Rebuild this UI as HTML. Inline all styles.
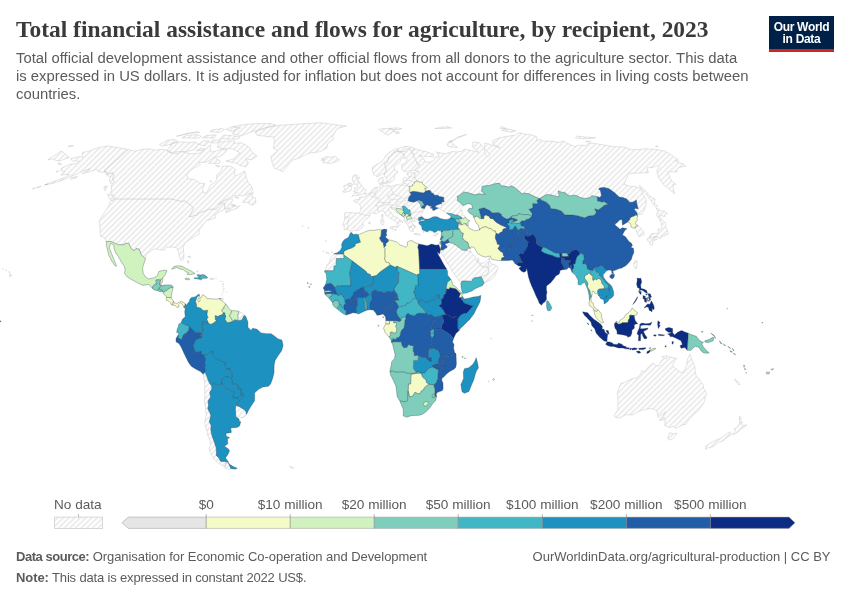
<!DOCTYPE html>
<html lang="en"><head><meta charset="utf-8"><title>Total financial assistance and flows for agriculture, by recipient, 2023</title>
<style>
html,body{margin:0;padding:0;background:#fff}
body{width:850px;height:600px;position:relative;overflow:hidden;font-family:"Liberation Sans",sans-serif;color:#5b5b5b}
.abs{position:absolute;white-space:nowrap}
#title{left:16px;top:15px;font-family:"Liberation Serif",serif;font-weight:bold;font-size:23.45px;color:#3a3a3a;line-height:28px}
#sub{left:16px;top:49.2px;font-size:14.85px;line-height:18px;color:#5b5b5b}
#logo{left:769px;top:16px;width:65px;height:33px;background:#002147;border-bottom:3px solid #ce261e;color:#fff;font-weight:bold;font-size:12px;line-height:12px;letter-spacing:-0.3px;text-align:center;box-sizing:content-box}
#logo span{display:block;padding-top:5px}
.lg{font-size:13.6px;color:#5b5b5b;top:497px;line-height:16px}
.ft{font-size:13px;letter-spacing:-0.055px;color:#5b5b5b;line-height:16px}
.ft b{color:#5b5b5b}
svg{position:absolute;left:0;top:0}
</style></head><body>
<svg width="850" height="600" viewBox="0 0 850 600">
<defs>
<pattern id="h" width="4" height="4" patternUnits="userSpaceOnUse" patternTransform="rotate(-45 2 2)"><rect x="-1" y="-1" width="6" height="6" fill="#fff"/><path d="M-1,2l6,0" stroke="#ccc" stroke-width="0.7"/></pattern>
</defs>
<g fill="url(#h)" stroke="#bcbcbc" stroke-width="0.4" stroke-linejoin="round">
<path d="M333.8,254.1L343.9,254.1L343.8,255.1L343.8,258.5L336.3,258.5L336.2,265.2L333.9,266.3L333.8,270.7L324.9,270.7L324.6,272.1L326.4,267.6L327.2,264.5L329.5,261.9L330.7,258.0Z"/>
<path d="M635.7,260.3L637.1,261.1L636.8,266.1L636.0,269.2L633.9,266.3L633.8,263.7L634.8,261.1Z"/>
<path d="M634.2,227.8L635.4,227.7L635.7,226.4L638.0,225.6L642.2,229.8L643.7,232.4L644.2,234.5L641.8,235.5L639.0,236.7L637.9,235.0L636.6,231.1L636.2,229.8Z"/>
<path d="M660.4,218.1L663.3,220.7L665.9,223.3L665.5,226.4L667.0,229.8L668.5,233.2L667.2,235.0L666.4,233.7L665.2,235.8L661.6,236.0L661.8,236.8L660.3,238.9L658.1,236.8L655.1,236.6L652.1,237.1L649.2,237.6L649.5,236.3L651.3,233.9L652.2,233.6L656.7,233.4L658.1,233.2L658.1,229.5L658.6,228.5L659.3,230.3L661.6,228.7L662.0,225.9L661.2,222.5L659.7,220.4L659.6,218.9ZM658.7,218.1L660.6,217.3L658.8,215.5L660.7,215.2L664.7,216.8L665.1,214.2L667.3,213.4L664.8,211.1L661.9,211.1L655.9,207.8L657.0,210.3L658.5,213.4L656.6,213.7L656.7,215.5ZM649.4,237.9L651.2,238.6L652.7,240.7L652.9,244.4L651.6,245.2L650.3,244.7L649.3,242.0L647.7,240.7L647.2,238.9L648.3,238.4ZM652.9,238.9L653.5,237.3L656.1,236.8L657.5,238.1L657.0,239.4L654.9,239.2L655.0,241.0L653.6,240.2Z"/>
<path d="M734.7,378.9L737.6,381.2L740.1,384.6L738.7,384.6L735.9,381.8Z"/>
<path d="M321.4,158.8L325.2,156.8L332.1,157.2L335.6,156.5L337.9,158.8L339.5,159.9L336.7,161.6L330.2,163.6L325.9,162.7L322.9,162.7L324.4,161.1L321.1,160.2L324.8,159.3Z"/>
<path d="M351.8,196.2L356.2,195.6L361.2,194.6L366.0,193.3L364.2,192.5L366.5,189.8L363.8,188.8L363.0,187.3L360.3,183.8L359.0,181.4L357.5,181.4L359.4,177.2L355.7,177.5L357.4,175.0L353.9,175.0L352.3,177.7L352.5,180.6L354.0,183.1L353.6,184.3L357.0,184.1L357.4,186.8L357.2,187.8L354.4,188.0L355.1,189.8L352.9,191.5L356.9,192.8L357.9,192.5L354.9,193.3ZM349.2,183.1L351.3,183.3L352.6,185.1L351.0,186.1L349.0,185.8L347.5,185.1L348.9,183.8Z"/>
<path d="M350.8,190.8L351.5,188.0L351.0,186.1L349.0,185.8L347.5,185.1L348.9,183.8L349.2,183.1L346.8,184.8L343.8,185.8L344.1,187.8L344.6,189.5L342.9,191.3L343.8,192.5L347.0,191.8Z"/>
<path d="M383.8,173.8L382.7,173.6L380.9,174.6L378.2,176.3L376.3,176.5L373.6,174.6L372.4,170.7L372.3,167.4L374.9,165.5L378.3,163.4L381.7,161.6L384.1,158.8L385.6,155.8L387.9,153.6L390.9,151.4L394.8,149.2L399.5,148.1L405.2,146.4L409.9,146.8L414.4,148.1L414.4,149.2L411.7,150.8L409.4,148.6L406.5,149.4L406.2,150.5L404.8,151.8L400.9,151.6L397.6,150.8L397.0,152.3L393.7,152.0L393.6,153.2L391.3,154.9L389.8,157.0L388.3,157.4L388.7,159.3L387.3,160.9L388.1,161.8L384.9,163.4L385.3,167.6L386.7,168.5L385.6,169.3L386.3,170.7L386.2,171.4L385.0,172.2L384.4,174.1L383.8,173.8Z"/>
<path d="M383.8,173.8L384.3,175.8L385.8,177.7L387.2,180.9L388.0,182.8L390.6,182.6L390.3,181.6L392.9,180.9L394.3,179.7L394.6,176.7L394.9,174.8L398.1,171.9L394.7,170.0L394.2,167.6L394.7,166.0L396.3,164.6L399.2,162.7L401.0,160.9L400.2,159.9L401.9,158.6L405.2,158.1L404.1,156.8L404.1,154.7L402.9,153.4L399.4,151.8L397.6,150.8L397.0,152.3L393.7,152.0L393.6,153.2L391.3,154.9L389.8,157.0L388.3,157.4L388.7,159.3L387.3,160.9L388.1,161.8L384.9,163.4L385.3,167.6L386.7,168.5L385.6,169.3L386.3,170.7L386.2,171.4L385.0,172.2L384.4,174.1L383.8,173.8Z"/>
<path d="M405.2,158.1L407.5,159.7L406.5,161.6L403.9,163.9L401.6,164.3L401.8,167.9L402.2,170.0L405.4,171.9L409.2,171.2L414.2,170.4L416.3,168.6L419.8,164.8L416.5,163.0L417.0,161.6L415.5,160.4L414.7,157.7L413.2,155.6L414.3,153.8L411.4,152.7L411.2,152.0L411.7,150.8L409.4,148.6L406.5,149.4L406.2,150.5L404.8,151.8L400.9,151.6L397.6,150.8L399.4,151.8L402.9,153.4L404.1,154.7L404.1,156.8L405.2,158.1Z"/>
<path d="M384.5,182.1L387.3,181.4L387.4,182.4L386.5,184.1L384.4,183.3ZM382.0,182.6L383.9,182.6L383.8,183.7L382.4,183.6Z"/>
<path d="M415.0,172.9L410.4,172.6L406.8,173.6L407.0,174.8L408.9,175.8L408.8,176.7L409.3,178.4L407.1,178.9L405.7,177.2L403.9,177.7L403.1,180.1L403.6,182.1L401.8,184.1L401.1,185.2L399.2,185.3L398.7,184.3L395.1,185.1L390.8,186.6L389.3,185.1L386.7,185.8L384.6,186.3L382.5,185.1L382.3,184.3L381.5,183.8L382.7,181.9L383.9,180.4L382.8,179.9L383.1,177.1L379.5,178.7L378.6,179.9L378.7,182.4L379.8,184.1L380.5,186.3L379.8,187.3L377.0,187.3L373.9,187.8L372.6,189.0L371.5,191.0L369.9,192.8L368.3,193.6L366.4,194.1L366.4,195.8L363.6,197.1L360.6,197.1L359.4,197.1L360.0,199.6L357.1,199.4L353.5,200.4L354.5,201.9L357.5,202.7L358.7,203.4L360.7,206.0L360.9,207.8L360.5,210.3L359.4,213.2L355.3,213.1L351.3,212.7L346.5,212.4L344.0,214.0L344.7,216.5L344.6,219.4L343.2,223.5L342.9,225.4L344.3,226.1L344.0,229.8L347.3,229.3L349.4,230.6L351.1,232.4L353.7,230.6L358.4,230.6L361.7,228.2L363.6,225.4L362.6,223.3L365.1,219.6L367.8,218.3L370.1,216.0L369.5,213.7L371.5,212.9L373.2,213.2L374.5,213.4L376.2,214.0L378.6,212.3L381.5,210.6L384.4,211.9L385.2,214.5L388.0,216.5L389.8,218.3L392.4,218.9L393.5,219.9L395.1,221.5L396.9,223.3L397.4,225.4L396.9,227.2L397.8,227.4L398.8,226.1L400.0,224.6L398.3,222.8L399.1,220.9L401.5,222.2L402.4,222.5L402.5,221.2L399.2,219.4L396.9,217.1L395.0,217.1L392.5,215.0L391.6,212.7L389.0,211.1L388.6,208.3L391.4,207.3L391.0,207.8L392.0,209.6L392.7,208.3L393.1,208.3L394.3,210.3L395.0,211.4L397.4,212.9L400.0,214.5L402.0,215.8L403.4,216.5L404.0,217.2L404.4,218.6L404.1,220.4L405.8,222.8L407.4,224.6L408.4,226.4L412.1,227.2L409.7,226.7L408.5,227.7L409.8,230.3L411.6,231.3L413.4,231.3L412.3,228.5L413.8,228.7L414.9,228.1L414.1,227.2L414.9,226.7L412.4,224.8L412.9,224.1L411.3,222.0L411.7,220.4L412.9,221.3L413.0,222.1L415.0,221.6L414.0,220.2L418.0,219.8L418.4,220.2L418.8,217.6L420.6,216.5L422.1,216.8L420.9,215.5L421.5,213.7L422.8,212.3L422.8,211.1L424.4,209.1L424.5,208.6L421.3,207.9L420.7,205.0L419.0,202.4L417.1,200.8L413.8,202.2L409.7,201.4L408.0,200.4L408.6,198.6L408.8,197.3L411.2,194.2L409.9,192.5L408.9,190.5L410.1,189.5L408.9,186.4L410.6,186.6L412.8,185.6L412.9,184.1L414.7,183.1L414.1,182.2L416.9,181.0L415.5,178.2L414.7,177.6L414.7,175.8L415.0,172.9Z"/>
<path d="M404.0,217.2L403.8,216.3L404.3,215.2L405.3,215.3L406.6,217.1L406.5,218.6L407.7,219.8L407.2,221.7L406.4,222.5L405.8,222.8L404.1,220.4L404.4,218.6Z"/>
<path d="M665.5,151.2L656.0,149.4L645.0,148.7L642.4,149.2L631.7,149.8L624.2,147.0L612.1,146.6L607.3,145.5L590.8,142.9L588.2,143.4L586.2,145.5L579.1,145.1L575.3,146.6L567.3,143.4L563.5,141.1L558.8,142.3L550.1,141.1L543.2,141.3L540.5,139.6L536.5,140.2L536.6,136.6L531.2,134.8L518.5,132.8L515.0,135.2L507.2,136.4L498.1,138.0L492.3,141.1L493.4,144.4L500.0,147.7L494.7,146.1L489.0,144.0L484.2,142.9L484.5,145.5L484.9,149.8L488.5,152.7L489.6,155.8L486.5,156.5L485.1,152.7L483.9,148.7L479.3,142.7L473.1,141.9L472.4,146.6L479.0,152.5L472.0,150.5L463.7,149.2L462.3,151.2L456.0,152.0L452.3,151.4L445.8,153.8L441.2,153.2L436.2,151.8L438.7,155.4L439.5,156.8L435.7,156.8L433.5,160.6L429.7,162.5L425.0,161.6L423.7,158.8L420.0,156.1L418.7,155.2L423.5,156.3L433.2,157.0L433.7,154.3L427.3,152.0L420.0,150.3L416.3,149.0L414.4,149.2L411.7,150.8L411.2,152.0L411.4,152.7L414.3,153.8L413.2,155.6L414.7,157.7L415.5,160.4L417.0,161.6L416.5,163.0L419.8,164.8L416.3,168.6L414.2,170.4L418.9,171.8L416.7,171.9L415.0,172.9L414.7,175.8L414.7,177.6L415.5,178.2L416.9,181.0L419.5,182.1L422.4,182.4L422.7,183.8L424.9,186.1L427.0,187.5L426.0,188.5L424.6,188.3L425.9,191.0L429.7,190.3L431.2,191.8L430.7,192.3L433.6,193.8L434.3,195.3L437.9,195.3L439.3,196.6L443.7,197.3L443.7,199.9L444.3,201.8L442.0,201.8L441.2,203.7L443.3,203.9L441.4,204.7L441.8,206.0L440.8,207.3L439.1,208.0L440.7,209.8L444.3,211.6L446.7,213.2L452.0,213.7L455.0,215.0L457.5,215.0L461.0,217.1L463.1,218.6L465.5,217.2L462.6,214.2L461.7,210.3L460.5,209.8L462.0,207.0L463.7,205.5L462.5,205.0L459.3,201.9L457.3,200.4L457.8,198.3L457.0,196.6L460.3,194.8L463.7,192.0L467.2,192.5L471.5,193.8L474.2,194.8L479.7,193.8L482.4,194.3L485.4,194.3L481.7,191.5L482.1,186.4L485.7,185.8L489.5,185.4L494.6,183.8L499.2,183.1L501.3,185.8L506.0,186.3L508.4,187.3L511.5,185.8L515.4,188.0L522.5,194.3L523.3,193.0L529.0,193.8L534.0,196.3L539.1,198.5L542.9,196.6L546.5,194.6L551.3,194.9L558.4,197.0L559.2,194.9L558.1,190.9L560.7,191.9L565.9,193.0L566.8,194.8L570.6,195.9L573.6,195.2L576.4,195.6L581.4,198.0L586.4,198.5L589.8,197.6L591.7,195.7L597.1,196.7L599.9,197.6L601.5,195.4L600.8,192.2L600.3,189.9L598.8,189.4L599.5,188.0L604.1,187.4L609.0,188.7L614.9,193.0L617.5,195.6L619.1,197.0L623.6,197.8L627.0,199.2L629.5,202.2L632.6,202.2L635.9,200.4L636.5,200.2L636.6,202.9L638.2,208.8L635.3,208.3L634.3,209.4L637.1,212.9L637.3,215.8L637.7,216.0L639.0,214.0L641.7,214.7L644.2,210.3L646.1,203.9L646.1,198.9L642.5,193.8L641.8,190.8L639.2,188.0L635.1,186.3L630.3,186.3L624.1,184.3L625.4,180.9L627.4,177.0L628.8,173.4L637.4,173.1L642.7,172.9L648.3,172.9L647.1,167.9L652.9,167.4L657.2,165.8L659.5,167.9L656.7,170.2L658.4,177.0L662.9,183.8L674.7,193.8L673.4,189.0L672.7,185.1L675.8,184.3L671.7,180.9L669.7,176.5L667.5,171.9L677.0,171.7L677.1,169.3L679.2,167.4L685.9,166.2L683.9,164.3L676.2,161.6L674.9,160.4L678.2,160.9L678.7,159.9ZM60.9,151.2L63.9,152.5L66.4,155.4L69.1,157.4L59.3,161.1L55.8,160.4L52.9,158.8L47.7,159.9ZM446.9,145.3L451.1,147.2L457.5,147.4L452.4,143.4L452.2,141.7L448.4,141.9L447.3,144.4ZM449.0,141.5L453.0,140.2L457.2,137.2L466.5,134.4L463.7,135.6L456.7,138.6L452.1,141.5ZM501.6,130.3L507.0,128.9L516.0,130.7L511.3,132.2ZM500.1,128.5L500.9,126.5L506.5,128.5ZM575.4,137.8L577.1,136.0L586.7,137.2L595.5,137.8L590.6,138.6L581.3,138.6ZM585.5,141.5L590.5,141.1L589.3,141.9ZM639.5,185.3L645.9,191.3L649.9,196.3L655.1,199.1L654.3,203.2L657.9,206.2L655.0,206.5L651.4,201.4L647.9,196.3L643.0,191.3L640.1,187.5ZM655.5,146.6L656.2,145.5L658.4,146.8ZM434.9,128.5L441.0,127.2L447.8,126.8L451.6,128.0L442.0,128.5Z"/>
<path d="M70.2,145.5L73.6,145.9L68.0,146.8Z"/>
<path d="M378.8,129.4L383.3,128.5L391.2,128.9L394.6,130.7L390.8,133.2L388.5,135.0L384.1,133.2L380.0,130.7ZM389.0,128.4L396.0,127.9L401.9,128.5L398.0,129.8L391.4,129.4ZM394.2,131.8L397.9,131.8L399.7,133.0L396.2,133.6Z"/>
<path d="M389.8,227.2L391.9,226.7L396.6,226.4L395.7,229.0L395.8,230.6L393.4,229.5L390.3,228.2ZM380.6,219.6L382.6,218.6L384.0,220.7L383.7,224.3L382.2,224.8L381.1,224.1L381.0,221.2ZM382.9,214.2L383.2,216.8L382.6,218.3L381.3,217.1L381.4,215.2ZM414.2,233.7L415.7,233.4L418.6,234.1L420.4,234.5L417.6,235.1L414.5,234.3ZM433.4,234.9L434.9,234.1L438.2,233.2L437.1,235.0L435.1,236.0L433.7,235.6ZM368.3,223.0L370.0,222.1L370.4,223.0L369.6,223.8ZM413.0,224.8L415.0,225.6L416.0,227.2L414.7,226.4ZM419.1,223.5L420.0,224.3L419.0,224.6ZM423.3,231.3L424.2,231.6L423.4,232.6Z"/>
<path d="M487.9,381.5L488.8,380.7L489.5,381.5L488.7,382.3Z"/>
<path d="M490.5,338.5L491.1,338.0L491.7,338.5L491.1,339.1Z"/>
<path d="M325.6,252.5L326.5,251.5L327.4,252.5L326.4,253.4ZM327.7,253.3L328.5,252.5L329.2,253.3L328.4,254.1ZM331.2,252.2L332.1,251.3L332.9,252.2L332.0,253.2ZM322.8,251.4L323.4,250.9L324.0,251.4L323.4,252.0Z"/>
<path d="M307.8,227.7L308.5,227.0L309.1,227.7L308.3,228.4ZM302.1,225.9L302.7,225.3L303.1,225.9L302.5,226.5Z"/>
<path d="M325.4,240.9L325.9,240.3L326.5,240.9L325.9,241.5Z"/>
<path d="M289.4,466.5L293.6,467.7L292.8,468.7Z"/>
<path d="M222.3,284.1L223.0,283.4L223.7,284.1L222.9,284.8ZM222.8,286.2L223.3,285.7L223.8,286.2L223.2,286.7ZM223.2,288.3L223.8,287.7L224.4,288.3L223.8,288.9ZM223.2,290.1L223.7,289.6L224.1,290.1L223.7,290.6ZM226.4,291.9L226.9,291.5L227.3,291.9L226.9,292.4ZM221.3,294.8L221.8,294.3L222.3,294.8L221.8,295.3ZM222.7,291.9L223.1,291.5L223.5,291.9L223.1,292.3ZM222.0,281.7L222.5,281.3L222.9,281.7L222.4,282.2ZM220.1,281.2L220.5,280.8L220.9,281.2L220.4,281.6ZM215.5,278.6L216.0,278.1L216.4,278.6L215.9,279.1Z"/>
<path d="M440.1,240.0L441.6,239.4L441.5,241.0L441.3,241.8L441.4,244.1L441.4,245.7L440.8,249.2L440.6,249.4L438.7,244.7L439.2,243.9L439.8,241.5Z"/>
<path d="M466.6,250.4L468.2,248.1L468.8,247.8L469.5,248.2L470.9,251.8L469.3,251.8Z"/>
<path d="M440.8,249.7L440.7,253.3L442.7,255.1L445.2,259.0L447.1,262.9L450.0,266.3L451.6,270.2L453.8,273.6L456.7,277.3L459.5,281.5L460.8,283.6L461.6,282.8L461.7,281.0L464.7,281.0L466.1,281.0L469.5,281.2L471.4,281.7L472.8,278.9L474.7,277.8L481.2,276.8L487.8,274.2L488.9,268.9L487.7,267.1L481.8,266.6L479.3,263.5L479.2,263.1L478.2,262.2L477.3,261.8L475.7,259.3L475.2,256.7L473.0,254.6L471.4,253.0L470.9,251.8L469.3,251.8L466.6,250.4L462.4,250.1L455.9,245.2L452.1,243.1L449.4,242.4L444.7,244.1L447.2,246.7L446.3,248.1L444.6,248.4L443.3,250.1Z"/>
<path d="M484.2,282.9L481.2,276.8L487.8,274.2L488.9,268.9L487.7,267.1L488.2,265.0L488.7,263.2L489.2,261.8L489.8,261.4L491.4,263.7L495.1,264.8L498.1,267.6L495.9,273.1L494.2,277.0L491.7,279.4L488.8,280.7L486.2,282.0ZM488.7,259.5L489.4,257.6L489.4,259.5Z"/>
<path d="M479.2,263.1L479.3,263.5L481.8,266.6L487.7,267.1L488.2,265.0L488.7,263.2L489.2,261.8L489.8,261.4L489.4,259.5L488.7,259.5L488.8,258.4L487.2,260.3L485.4,262.4L482.4,263.2Z"/>
<path d="M477.3,261.8L478.2,262.2L479.0,260.6L478.5,258.2L477.8,258.1L477.1,259.8Z"/>
<path d="M128.3,149.6L104.2,171.0L107.1,171.7L107.3,174.3L112.9,172.4L113.6,175.5L112.7,179.9L114.7,181.6L112.4,183.8L110.5,183.1L109.3,180.1L110.8,176.5L107.5,176.0L105.5,172.4L97.9,171.7L96.8,169.3L89.6,171.7L82.0,173.6L90.0,168.8L83.6,170.5L76.8,174.1L68.2,177.7L59.5,181.4L51.1,183.8L44.7,184.8L53.8,181.4L64.4,177.7L69.5,174.8L65.1,174.6L60.8,175.0L64.7,171.7L60.6,170.5L61.7,168.1L68.9,164.6L76.6,163.4L79.5,161.1L72.5,161.1L70.6,158.6L80.3,156.5L82.6,157.4L82.7,155.4L82.5,152.5L89.8,150.9L96.4,148.1L107.8,145.9L113.7,147.0L119.0,147.9L124.5,148.7ZM77.4,176.5L75.2,178.2L70.5,179.4L71.6,177.7ZM58.2,163.0L61.7,163.9L58.5,164.6ZM56.6,171.0L58.5,171.2L56.4,172.2ZM41.1,186.1L36.6,187.5L38.3,187.8ZM35.6,187.5L32.1,189.0L33.9,188.8ZM48.2,183.8L44.7,184.8L47.2,184.8Z"/>
<path d="M115.2,198.9L110.6,200.6L108.7,206.0L103.2,214.2L99.3,221.2L100.0,227.7L100.4,236.3L104.5,237.6L106.1,241.5L111.1,241.5L118.4,244.7L124.6,244.7L125.0,243.3L128.7,243.3L131.5,249.1L134.4,250.7L136.0,248.6L139.2,249.1L141.2,254.6L145.5,258.8L146.1,254.6L152.3,250.1L155.3,248.8L160.1,249.9L164.5,250.1L166.3,247.3L173.0,247.0L177.2,248.1L178.7,253.3L180.0,258.5L181.4,260.8L183.4,259.8L184.0,255.9L183.3,247.3L185.0,242.8L190.2,239.4L195.5,235.8L199.0,234.2L199.3,229.8L201.1,227.2L206.3,220.7L210.9,219.4L215.7,217.6L214.8,215.0L219.7,211.6L224.5,209.6L224.8,208.8L224.7,203.9L222.2,202.9L218.7,206.5L215.4,209.1L208.8,209.1L204.3,211.1L198.4,212.9L197.7,214.7L189.6,216.8L190.6,214.2L193.6,208.3L191.0,205.5L189.8,204.5L185.0,200.6L181.6,201.4L171.7,198.9ZM9.8,273.6L11.8,275.0L9.8,276.9L9.4,275.0ZM8.7,271.7L10.2,272.1L9.2,272.6ZM5.7,270.0L6.7,270.5L6.0,270.8ZM2.7,268.4L3.5,268.7L3.0,269.2Z"/>
<path d="M112.4,183.8L114.7,181.6L112.7,179.9L113.6,175.5L112.9,172.4L107.3,174.3L107.1,171.7L104.2,171.0L128.3,149.6L134.8,151.2L139.7,149.8L149.3,148.7L154.5,150.1L162.1,149.2L170.1,151.2L170.2,152.7L177.8,153.6L181.2,151.8L185.0,152.3L189.8,153.6L196.6,153.6L200.7,152.7L203.9,149.8L210.8,144.9L210.1,149.4L211.4,152.0L215.2,151.4L220.9,149.4L226.8,149.4L225.7,152.0L219.7,157.0L214.5,157.0L211.2,159.3L205.6,162.3L198.3,162.5L200.4,164.6L191.7,169.3L186.8,174.6L188.0,178.9L194.4,179.4L199.9,183.1L204.8,183.6L202.7,188.8L203.5,193.0L206.7,192.5L210.4,185.1L216.1,181.4L216.8,174.8L220.4,171.7L222.8,166.0L230.5,166.0L235.5,169.3L234.0,174.1L235.9,175.8L242.0,172.9L244.8,170.7L246.3,177.7L248.1,182.6L251.5,186.3L253.1,190.0L250.2,192.8L243.2,195.8L235.3,195.6L228.6,197.6L220.7,202.7L218.0,204.5L225.6,200.1L232.3,198.3L232.3,201.4L230.4,203.9L231.8,206.0L237.7,207.0L240.3,205.2L237.3,208.3L230.4,210.6L225.6,212.7L226.3,210.3L230.2,207.8L224.8,208.8L224.7,203.9L222.2,202.9L218.7,206.5L215.4,209.1L208.8,209.1L204.3,211.1L198.4,212.9L197.7,214.7L189.6,216.8L190.6,214.2L193.6,208.3L191.0,205.5L189.8,204.5L185.0,200.6L181.6,201.4L171.7,198.9L115.2,198.9L114.3,195.8L110.1,193.3L111.6,190.0L111.1,185.8ZM245.7,166.9L240.1,165.5L236.1,163.2L225.8,161.1L234.2,158.8L237.1,155.4L240.2,153.2L234.8,149.8L232.2,148.7L223.1,148.7L217.1,147.0L219.5,142.3L228.8,140.9L235.1,140.9L233.8,143.4L241.5,142.7L246.2,145.3L250.1,148.1L250.8,150.9L257.2,156.3L251.0,159.9L245.6,158.6L248.1,162.3L248.1,163.9ZM193.9,149.8L186.7,151.4L177.8,151.8L170.4,152.5L166.9,150.9L168.8,147.7L171.7,145.7L170.0,145.1L175.1,142.7L181.9,141.7L188.7,142.7L195.2,141.9L198.2,144.4L196.4,148.1ZM162.3,146.1L159.5,144.6L166.6,140.6L173.9,139.2L177.6,141.3L169.9,144.4ZM241.2,135.8L245.7,134.2L253.0,131.3L262.9,128.5L275.8,125.2L270.5,123.6L257.0,123.5L241.6,124.9L233.9,126.5L240.5,128.0L233.9,131.3L232.6,133.8ZM237.5,139.0L219.5,139.0L223.5,135.2L229.4,135.4L240.2,136.8ZM232.0,131.6L225.9,129.4L232.7,126.3L237.7,128.0ZM198.6,138.2L182.0,137.8L187.1,135.2L198.3,134.8L201.0,136.2ZM218.1,142.9L210.1,142.9L213.0,140.0L220.6,140.2ZM204.9,145.9L198.2,144.4L203.7,140.6L209.6,141.1ZM214.1,138.2L202.2,137.8L206.8,135.2L216.2,135.0ZM199.7,132.6L189.9,133.2L180.5,135.6L176.5,136.2L186.4,133.6L198.1,131.6ZM219.8,132.6L209.9,131.6L212.2,130.0L221.3,128.5L224.5,129.4ZM219.0,163.4L208.5,163.2L214.6,158.1L220.5,161.1ZM203.6,150.3L196.3,150.9L200.3,148.3L204.1,148.7ZM242.5,202.4L248.6,194.6L253.4,192.3L251.5,196.3L255.6,198.1L255.9,202.7L253.5,205.0L249.2,204.2L249.3,202.4ZM107.6,194.3L112.9,195.8L113.6,200.4L110.8,200.1L108.9,197.8ZM105.3,185.8L107.4,186.3L105.1,190.8L103.8,188.8ZM235.0,196.6L238.9,198.1L235.5,197.8ZM232.0,204.2L236.2,205.2L232.8,206.2ZM218.6,166.9L215.3,165.1L220.0,166.2ZM211.7,180.6L209.8,181.4L211.2,181.6Z"/>
<path d="M255.6,131.6L266.5,127.7L280.0,125.2L301.6,123.9L320.0,122.7L333.0,124.4L346.4,126.0L337.4,128.5L335.1,132.2L332.6,136.2L333.5,139.2L327.8,143.4L326.9,148.1L319.4,151.8L308.9,153.2L297.9,158.6L293.1,159.9L287.9,165.1L283.1,171.7L279.0,170.0L274.2,168.1L272.0,162.3L270.9,156.5L277.8,150.5L273.2,148.1L274.4,142.7L273.8,137.2L262.4,136.0L256.9,135.2L255.7,133.2Z"/>
<path d="M620.9,383.3L618.5,389.1L617.2,394.3L618.0,398.2L617.9,404.7L617.7,410.0L614.0,416.0L616.6,417.8L619.8,417.8L625.3,414.9L633.0,414.9L640.1,410.8L647.4,408.9L651.9,408.7L656.7,410.5L658.1,417.3L664.8,412.6L665.7,411.5L662.8,416.5L660.9,418.3L664.7,417.3L662.8,419.4L665.3,420.4L664.8,425.6L670.1,427.7L673.5,426.1L675.6,428.5L681.1,425.4L685.9,424.3L688.9,419.6L693.5,414.9L698.4,410.5L701.7,406.1L704.8,401.1L705.0,397.4L706.7,393.0L703.6,388.8L703.4,385.2L700.8,381.8L699.0,378.6L696.3,376.5L695.4,372.1L695.3,370.5L694.8,366.9L693.6,363.5L691.8,359.8L690.2,354.3L687.5,359.3L686.6,365.6L683.6,372.1L680.6,372.4L677.6,370.0L673.6,366.9L672.8,365.1L674.5,361.1L676.9,358.5L673.8,357.7L668.2,356.7L666.0,355.7L666.8,358.3L663.1,358.8L660.7,361.7L659.2,365.6L656.0,365.6L653.2,363.0L648.5,366.9L644.3,371.6L641.5,370.8L641.0,373.4L637.6,377.6L632.8,378.6L628.0,380.5L624.2,382.6ZM669.7,432.6L672.9,433.7L677.0,433.2L675.2,436.0L672.2,439.1L669.2,440.1L667.7,438.3L668.3,436.5ZM659.4,419.6L661.7,419.4L662.4,420.2L659.9,420.4ZM662.3,356.2L664.8,356.2L663.5,357.2L661.9,357.0Z"/>
<path d="M739.7,416.2L741.2,418.6L740.5,422.5L742.3,422.0L741.7,424.6L743.6,425.6L746.9,424.8L744.1,427.4L740.7,429.3L738.7,431.6L732.8,435.0L732.3,434.2L735.3,431.3L735.5,430.6L734.0,429.0L736.6,427.7L738.8,425.1L739.8,421.5L739.1,418.3ZM729.4,432.1L731.0,433.2L730.5,435.2L727.8,437.0L723.9,439.6L723.6,440.7L718.6,442.2L714.2,446.0L710.3,447.8L707.8,447.8L705.2,446.8L709.9,443.2L713.7,441.2L719.9,438.6L723.0,436.8L724.7,435.4L727.4,433.2ZM705.7,448.3L706.9,448.6L705.5,449.4Z"/>
<path d="M238.8,311.3L237.8,315.4L238.2,318.0L237.3,320.4L239.8,320.4L241.9,319.9L244.1,315.4L243.6,314.1L241.8,312.8Z"/>
<path d="M235.7,405.3L239.5,406.8L240.7,407.4L244.4,409.7L246.0,411.8L246.5,414.4L243.8,417.5L240.9,417.5L237.2,416.2L235.7,415.2L235.6,412.6L235.4,408.7Z"/>
<path d="M203.2,374.3L205.1,372.1L206.6,376.0L207.1,377.1L208.1,380.2L209.0,382.0L209.9,383.9L211.7,385.9L211.8,389.1L209.7,392.2L210.6,396.9L208.1,400.8L208.5,405.5L207.8,408.7L209.8,412.6L210.9,415.7L210.2,418.3L209.3,421.7L211.2,425.6L210.8,429.5L211.7,434.7L213.0,438.6L214.5,442.5L216.1,447.6L216.5,452.7L216.1,455.2L219.2,458.2L219.9,460.5L221.3,461.5L225.1,461.5L228.7,462.5L226.7,463.0L225.1,466.0L221.8,465.3L217.8,462.8L214.1,459.0L211.0,453.9L209.0,448.9L210.7,445.0L209.9,439.9L207.5,434.7L206.5,429.5L204.6,423.5L205.4,419.1L206.3,413.9L205.4,407.4L204.4,402.1L204.8,396.9L204.9,391.7L204.7,387.8L204.6,381.2ZM228.5,463.1L225.0,463.5L226.2,466.0L224.3,466.5L223.9,467.7L228.6,469.5L230.9,468.7Z"/>
<path d="M210.5,278.1L213.9,278.3L213.6,279.4L210.4,279.4Z"/>
<path d="M221.1,298.5L223.2,298.2L223.1,300.0L221.1,300.0Z"/>
<path d="M187.8,256.4L190.0,256.1L190.9,257.7L189.2,257.2ZM187.7,260.6L188.8,260.8L188.5,263.2L187.2,262.4ZM196.5,271.3L198.2,270.8L197.6,271.8Z"/>
</g>
<g fill="none" stroke="#c2c2c2" stroke-width="0.4" stroke-linejoin="round">
<path d="M344.6,217.1L346.0,216.5L346.1,217.3L349.3,217.1L350.1,217.8L348.6,219.4L348.3,222.8L347.2,222.9L348.2,226.7L347.3,229.3M359.4,213.2L360.3,214.1L364.7,215.0L366.8,215.5L369.9,215.6M378.8,212.1L379.2,211.1L377.5,210.6L377.7,208.6L377.2,207.0L377.7,206.8L377.1,205.5L375.7,206.0L375.7,205.0L377.5,202.9L378.7,202.4L378.6,200.6L379.7,198.9L376.7,198.3L376.1,197.7L374.8,197.5L373.0,196.8L372.8,195.9L371.6,196.4L369.6,194.6L368.3,193.6M369.9,192.9L371.7,192.8L373.1,192.7L374.9,193.6L374.5,194.3L375.2,194.4L375.8,195.4L375.5,196.1L376.2,196.8L376.1,197.7M375.2,194.4L375.1,191.8L376.6,191.5L377.0,190.3L377.3,188.0M379.8,184.1L382.3,184.3M390.8,186.6L391.3,188.0L390.8,189.3L392.2,191.0L393.0,193.6L392.7,194.2L391.6,193.8L389.0,195.3L387.4,195.6L388.3,197.1L391.1,199.4L389.5,200.6L389.2,201.0L389.7,202.7L388.0,202.4L384.6,202.7L382.7,202.5L380.7,202.2L378.7,202.4M382.7,202.5L382.8,203.8L384.6,204.3L383.9,205.7L382.3,205.5L381.7,206.9L380.4,205.5L379.3,206.6L377.7,206.8M384.6,204.3L385.7,204.6L388.1,203.8L388.6,204.7L391.3,205.2L390.7,206.0L391.2,207.0L391.4,207.5M391.3,205.2L393.1,205.5L396.1,204.3L396.8,202.9L398.0,201.4L397.5,199.9L395.7,199.5L393.4,198.9L392.9,199.9L391.1,199.4M392.7,194.2L395.7,194.7L395.5,195.3L397.0,195.6L398.6,195.6L401.1,197.5L399.7,198.6L397.9,199.2L397.5,199.9M401.1,197.5L403.1,198.3L403.7,198.3L406.4,197.8L408.6,198.6M398.0,201.4L399.4,202.0L401.4,201.9L403.5,201.0L406.7,200.1L408.0,200.4M409.7,201.4L408.0,202.7L406.7,205.5L404.8,206.2L403.4,206.1L402.1,206.7L398.8,206.6L397.2,205.3L396.1,204.3M391.2,207.9L393.3,207.5L394.7,207.8L395.5,206.9L396.6,205.5L397.2,205.3M410.3,211.1L411.1,212.1L416.3,212.5L419.3,211.2L422.8,212.3M411.7,218.5L414.9,218.0L416.6,218.7L418.8,217.6M407.7,219.8L407.2,221.7M409.0,176.8L411.3,176.7L413.2,177.7L414.7,177.6M403.4,181.1L406.8,180.4L410.6,180.4L414.1,182.2M404.0,183.2L407.2,184.1L407.4,185.4L408.9,186.4M407.4,185.4L401.3,185.2"/>
</g>
<g stroke="#2c3a48" stroke-opacity="0.7" stroke-width="0.45" stroke-linejoin="round">
<path fill="#1d91c0" d="M333.8,254.1L343.9,254.1L343.9,251.4L347.7,249.4L352.1,248.1L355.2,246.0L355.3,243.9L360.6,242.3L359.5,238.9L358.4,234.7L356.7,234.2L353.4,234.5L351.5,232.6L350.4,232.9L348.4,237.6L344.6,239.4L342.8,241.5L341.6,244.4L342.0,247.0L340.6,249.9L337.6,252.5Z"/>
<path fill="#f4fbc6" d="M358.4,234.7L359.5,238.9L360.6,242.3L355.3,243.9L355.2,246.0L352.1,248.1L347.7,249.4L343.9,251.4L343.8,255.1L352.4,261.1L365.8,271.3L367.3,273.4L370.5,274.7L370.7,276.8L372.8,276.4L376.4,275.6L380.2,271.9L390.2,265.0L389.3,262.9L386.1,262.2L384.2,258.0L385.3,257.2L385.0,252.5L385.1,248.6L384.2,247.5L383.2,242.6L381.4,241.5L379.6,238.1L381.1,236.0L381.4,231.1L381.7,229.9L378.3,229.5L374.0,230.3L369.7,230.3L365.4,231.6L363.2,232.9L360.6,233.9Z"/>
<path fill="#225ea8" d="M381.7,229.9L381.4,231.1L381.1,236.0L379.6,238.1L381.4,241.5L383.2,242.6L384.2,247.5L385.9,245.7L385.9,243.6L388.5,241.5L388.5,239.8L387.0,238.6L385.2,236.8L386.7,235.8L386.2,232.9L387.1,229.8L385.2,229.3L384.3,229.0Z"/>
<path fill="#f4fbc6" d="M388.5,239.8L388.5,241.5L385.9,243.6L385.9,245.7L384.2,247.5L385.1,248.6L385.0,252.5L385.3,257.2L384.2,258.0L386.1,262.2L389.3,262.9L390.2,265.0L395.2,267.4L397.0,266.3L417.6,275.5L417.6,274.2L419.8,274.2L419.7,268.9L418.7,250.1L417.9,247.5L418.7,243.9L414.2,242.3L413.7,241.3L410.3,240.5L407.4,242.0L407.4,245.4L405.7,247.3L403.0,246.0L399.8,244.9L396.8,242.0L392.1,240.5Z"/>
<path fill="#0c2c84" d="M418.7,243.9L417.9,247.5L418.7,250.1L419.7,268.9L434.3,268.9L446.5,268.9L443.5,264.0L440.5,258.5L438.7,255.4L435.4,248.3L437.0,251.7L439.4,253.9L440.6,249.4L438.7,244.7L436.0,245.2L434.2,244.7L431.5,244.1L429.4,244.9L427.2,245.7L423.9,244.9Z"/>
<path fill="#1d91c0" d="M419.7,268.9L446.5,268.9L447.6,271.6L447.5,275.0L451.0,279.4L448.6,281.5L447.5,282.0L446.5,286.7L446.6,289.1L445.9,293.2L443.7,295.6L443.3,298.2L441.9,298.7L441.5,301.6L438.9,298.5L439.3,294.5L437.2,295.1L436.6,297.7L434.4,300.8L432.1,299.5L429.8,301.1L427.5,302.1L424.1,301.6L420.6,299.5L418.4,303.7L417.2,300.3L415.7,297.9L414.3,293.2L413.4,293.2L414.6,289.6L415.1,288.0L415.5,285.4L418.0,285.4L417.6,275.5L417.6,274.2L419.8,274.2Z"/>
<path fill="#1d91c0" d="M418.4,303.7L420.6,299.5L424.1,301.6L427.5,302.1L429.8,301.1L432.1,299.5L434.4,300.8L436.6,297.7L437.2,295.1L439.3,294.5L438.9,298.5L441.5,301.6L441.6,303.9L439.6,305.2L439.1,306.0L441.4,307.6L443.8,310.7L444.5,312.3L446.0,314.4L441.6,315.4L439.3,316.2L437.0,317.1L434.3,317.3L431.6,314.6L428.6,315.2L426.4,313.3L424.0,309.9L421.4,307.3L418.8,304.7Z"/>
<path fill="#cff2be" d="M451.0,279.4L448.6,281.5L447.5,282.0L446.5,286.7L446.6,289.1L449.2,289.3L449.8,287.7L452.3,288.3L455.1,288.7L456.5,289.6L460.3,293.8L461.9,293.2L460.5,291.7L457.3,288.3L454.5,285.9L453.2,285.7L452.5,283.3Z"/>
<path fill="#f4fbc6" d="M461.9,293.2L460.3,293.8L459.1,296.4L459.1,297.7L461.6,297.7L462.4,296.4L461.3,296.1L462.7,294.5Z"/>
<path fill="#0c2c84" d="M446.6,289.1L449.2,289.3L449.8,287.7L452.3,288.3L455.1,288.7L456.5,289.6L460.3,293.8L459.1,296.4L459.1,297.7L461.6,297.7L461.2,298.7L464.3,302.9L471.3,305.5L473.6,305.5L466.9,313.3L463.4,313.7L460.0,315.7L459.8,316.0L457.7,316.1L454.9,316.3L454.3,317.4L451.0,317.0L448.5,314.9L446.2,314.8L446.0,314.4L444.5,312.3L443.8,310.7L441.4,307.6L439.1,306.0L439.6,305.2L441.6,303.9L441.5,301.6L441.9,298.7L443.3,298.2L443.7,295.6L445.9,293.2Z"/>
<path fill="#1d91c0" d="M462.4,296.4L464.2,299.1L468.8,298.2L473.3,297.1L477.9,296.4L480.8,295.5L480.5,299.0L479.9,301.9L478.2,305.5L476.0,309.4L473.8,314.1L469.3,319.9L467.7,321.2L463.6,325.4L460.1,328.8L459.0,330.7L457.8,328.6L457.7,319.1L459.8,316.0L460.0,315.7L463.4,313.7L466.9,313.3L473.6,305.5L471.3,305.5L464.3,302.9L461.2,298.7L461.6,297.7Z"/>
<path fill="#0c2c84" d="M459.0,330.7L455.9,333.5L453.5,338.5L449.9,334.2L441.6,329.0L441.4,326.1L442.8,323.5L443.9,321.4L442.5,317.3L441.6,315.4L446.0,314.4L446.2,314.8L448.5,314.9L451.0,317.0L454.3,317.4L454.9,316.3L457.7,316.1L459.8,316.0L457.7,319.1L457.8,328.6Z"/>
<path fill="#225ea8" d="M434.3,317.3L437.0,317.1L439.3,316.2L441.6,315.4L442.5,317.3L443.9,321.4L442.8,323.5L441.4,326.1L441.6,329.0L433.5,329.2L431.5,330.1L431.5,327.7L432.2,325.1L432.9,323.3L435.4,320.7L434.1,320.1Z"/>
<path fill="#225ea8" d="M453.5,338.5L452.5,342.1L454.1,344.7L453.6,348.1L454.6,352.5L456.0,353.8L450.4,355.9L445.7,356.7L443.3,356.6L442.6,355.1L441.3,351.2L438.9,350.9L434.7,348.9L434.0,348.1L431.1,343.4L431.4,338.0L432.3,337.6L434.2,335.0L433.5,332.7L434.3,332.4L433.5,329.2L441.6,329.0L449.9,334.2Z"/>
<path fill="#41b6c4" d="M431.5,330.1L433.5,329.2L434.3,332.4L433.5,332.7L432.1,333.5L430.1,333.5L430.6,330.8Z"/>
<path fill="#41b6c4" d="M430.1,333.5L432.1,333.5L433.5,332.7L434.2,335.0L432.3,337.6L431.4,338.0L430.5,335.0Z"/>
<path fill="#225ea8" d="M456.0,353.8L456.2,359.0L456.4,364.3L455.6,367.7L453.9,369.2L449.7,371.6L447.1,373.4L443.2,377.6L442.1,378.1L441.7,380.2L443.0,383.1L443.1,388.8L442.3,390.6L437.2,392.5L436.2,394.2L436.7,396.5L434.9,396.5L434.8,394.2L434.9,389.9L433.8,384.9L436.5,382.0L437.7,378.6L437.7,375.5L438.3,372.1L438.2,370.0L434.6,368.2L432.6,367.2L432.2,365.1L439.1,363.0L440.0,364.5L442.3,364.5L441.5,367.7L443.6,371.1L445.1,368.2L445.0,364.5L442.4,361.7L442.0,358.3L443.3,356.6L445.7,356.7L450.4,355.9Z"/>
<path fill="#225ea8" d="M438.9,350.9L441.3,351.2L442.6,355.1L443.3,356.6L442.0,358.3L442.4,361.7L445.0,364.5L445.1,368.2L443.6,371.1L441.5,367.7L442.3,364.5L440.0,364.5L439.1,363.0L438.0,361.9L438.8,359.0L439.6,356.7L439.6,354.6Z"/>
<path fill="#1d91c0" d="M438.9,350.9L439.6,354.6L439.6,356.7L438.8,359.0L438.0,361.9L439.1,363.0L432.2,365.1L432.6,367.2L429.4,367.9L429.1,368.2L424.6,373.3L422.1,373.3L420.7,372.9L418.3,372.1L416.4,372.4L413.4,368.7L413.6,360.4L418.1,360.4L418.3,354.9L419.4,356.2L421.4,356.7L422.8,357.5L425.6,356.7L426.2,358.3L429.6,361.4L431.4,361.4L431.5,358.0L428.3,357.2L428.5,350.7L429.6,348.6L434.0,348.1L434.7,348.9Z"/>
<path fill="#41b6c4" d="M420.7,372.9L422.1,373.3L424.6,373.3L429.1,368.2L429.4,367.9L432.6,367.2L434.6,368.2L438.2,370.0L438.3,372.1L437.7,375.5L437.7,378.6L436.5,382.0L433.8,384.9L429.6,384.4L426.5,382.8L425.9,379.9L422.6,377.3Z"/>
<path fill="#f4fbc6" d="M420.7,372.9L422.6,377.3L425.9,379.9L426.5,382.8L429.6,384.4L427.0,385.4L424.0,388.2L423.7,389.9L421.4,391.0L420.3,393.5L418.5,393.8L414.8,392.5L413.8,394.8L411.7,396.5L409.5,396.5L408.1,391.2L408.4,383.9L410.6,383.9L410.9,374.2L416.2,373.4L418.7,373.3Z"/>
<path fill="#7fcdbb" d="M389.9,371.5L392.8,370.8L393.9,371.8L395.5,371.8L405.1,371.8L406.2,372.9L411.9,373.4L416.4,372.4L418.3,372.1L420.7,372.9L418.7,373.3L416.2,373.4L410.9,374.2L410.6,383.9L408.4,383.9L408.1,391.2L407.7,400.6L405.4,401.9L402.3,401.4L399.9,401.1L397.2,396.7L396.6,391.7L395.9,386.2L393.5,380.7L390.5,374.7Z"/>
<path fill="#7fcdbb" d="M399.9,401.1L402.3,401.4L405.4,401.9L407.7,400.6L408.1,391.2L409.5,396.5L411.7,396.5L413.8,394.8L414.8,392.5L418.5,393.8L420.3,393.5L421.4,391.0L423.7,389.9L424.0,388.2L427.0,385.4L429.6,384.4L433.8,384.9L434.9,389.9L434.8,394.2L434.9,396.5L436.7,396.5L435.5,400.8L432.6,403.7L429.8,407.9L425.7,412.1L422.2,414.4L419.3,415.2L415.6,415.5L411.2,415.7L406.7,417.3L404.2,416.2L403.3,416.0L403.3,412.6L403.3,409.2L401.3,404.7Z"/>
<path fill="#7fcdbb" d="M434.8,394.2L433.3,393.7L432.1,395.3L432.4,397.4L434.4,397.7L434.9,396.5Z"/>
<path fill="#cff2be" d="M423.1,403.7L425.4,401.6L427.5,401.4L428.4,403.2L427.9,404.7L425.5,406.3L423.8,405.5Z"/>
<path fill="#7fcdbb" d="M389.9,371.5L392.8,370.8L393.9,371.8L395.5,371.8L405.1,371.8L406.2,372.9L411.9,373.4L416.4,372.4L413.4,368.7L413.6,360.4L418.1,360.4L418.3,354.9L414.4,355.7L414.2,352.5L413.3,351.2L413.3,347.6L413.6,345.5L410.4,345.5L409.9,344.4L408.1,344.7L406.9,347.3L403.7,347.6L402.1,345.2L401.4,341.7L394.1,341.7L391.5,342.2L392.7,344.7L393.8,349.4L395.1,354.6L394.6,358.5L391.8,361.4L391.1,365.8L390.1,369.5ZM391.3,341.4L390.8,339.5L392.5,338.2L393.4,338.4L392.2,340.8Z"/>
<path fill="#225ea8" d="M391.5,342.2L391.3,341.4L392.2,340.8L393.4,338.4L394.1,339.2L396.4,339.2L396.4,337.6L398.5,337.6L400.1,335.5L400.6,332.1L402.0,329.5L404.0,328.0L404.5,323.8L404.9,320.7L406.1,317.3L405.8,315.2L407.9,313.1L410.7,314.9L414.8,315.7L416.0,313.9L419.4,313.1L421.5,313.3L426.4,313.3L428.6,315.2L431.6,314.6L434.3,317.3L434.1,320.1L435.4,320.7L432.9,323.3L432.2,325.1L431.5,327.7L431.5,330.1L430.6,330.8L430.1,333.5L430.5,335.0L431.4,338.0L431.1,343.4L434.0,348.1L429.6,348.6L428.5,350.7L428.3,357.2L431.5,358.0L431.4,361.4L429.6,361.4L426.2,358.3L425.6,356.7L422.8,357.5L421.4,356.7L419.4,356.2L418.3,354.9L414.4,355.7L414.2,352.5L413.3,351.2L413.3,347.6L413.6,345.5L410.4,345.5L409.9,344.4L408.1,344.7L406.9,347.3L403.7,347.6L402.1,345.2L401.4,341.7L394.1,341.7Z"/>
<path fill="#7fcdbb" d="M388.8,336.7L390.8,339.5L392.5,338.2L393.4,338.4L394.1,339.2L396.4,339.2L396.4,337.6L398.5,337.6L400.1,335.5L400.6,332.1L402.0,329.5L404.0,328.0L404.5,323.8L404.9,320.7L406.1,317.3L403.5,317.0L401.5,317.3L400.6,320.7L399.4,321.4L396.6,320.7L393.9,320.7L393.6,323.0L396.0,322.7L396.6,324.3L395.3,326.4L396.7,328.0L396.4,331.4L395.9,332.7L393.2,332.7L392.0,331.6L390.0,332.7L390.6,335.5Z"/>
<path fill="#f4fbc6" d="M388.8,336.7L385.3,332.7L383.5,328.2L384.7,325.6L385.8,323.8L389.4,323.8L389.4,320.7L393.9,320.7L393.6,323.0L396.0,322.7L396.6,324.3L395.3,326.4L396.7,328.0L396.4,331.4L395.9,332.7L393.2,332.7L392.0,331.6L390.0,332.7L390.6,335.5Z"/>
<path fill="#f4fbc6" d="M385.8,323.8L389.4,323.8L389.4,320.7L385.8,320.4ZM382.8,316.7L383.7,316.7L383.7,317.8L382.8,317.8Z"/>
<path fill="#225ea8" d="M385.8,320.4L385.6,317.0L383.7,314.6L382.8,314.0L383.5,311.3L386.7,308.4L389.2,309.2L390.6,307.1L392.4,303.9L394.6,297.9L396.7,296.4L395.7,294.0L395.5,292.2L396.2,292.7L397.6,294.8L397.9,298.2L399.0,300.3L395.8,300.3L395.2,301.3L397.2,303.4L398.9,306.8L396.8,310.2L396.6,312.6L397.8,315.4L400.3,318.8L400.6,320.7L399.4,321.4L396.6,320.7L393.9,320.7L389.4,320.7Z"/>
<path fill="#41b6c4" d="M398.9,306.8L401.4,306.3L403.9,305.5L406.0,305.2L407.1,302.9L410.1,302.6L413.0,298.7L415.7,297.9L417.2,300.3L418.4,303.7L418.8,304.7L421.4,307.3L424.0,309.9L426.4,313.3L421.5,313.3L419.4,313.1L416.0,313.9L414.8,315.7L410.7,314.9L407.9,313.1L405.8,315.2L406.1,317.3L403.5,317.0L401.5,317.3L400.6,320.7L400.3,318.8L397.8,315.4L396.6,312.6L396.8,310.2Z"/>
<path fill="#41b6c4" d="M395.5,292.2L394.3,290.6L394.1,288.8L396.1,285.4L398.5,282.3L398.6,274.4L399.2,273.1L397.1,270.5L397.0,266.3L417.6,275.5L418.0,285.4L415.5,285.4L415.1,288.0L414.6,289.6L413.4,293.2L414.3,293.2L415.7,297.9L413.0,298.7L410.1,302.6L407.1,302.9L406.0,305.2L403.9,305.5L401.4,306.3L398.9,306.8L397.2,303.4L395.2,301.3L395.8,300.3L399.0,300.3L397.9,298.2L397.6,294.8L396.2,292.7Z"/>
<path fill="#1d91c0" d="M394.3,290.6L394.1,288.8L396.1,285.4L398.5,282.3L398.6,274.4L399.2,273.1L397.1,270.5L397.0,266.3L395.2,267.4L390.2,265.0L380.2,271.9L376.4,275.6L372.8,276.4L372.8,282.3L372.3,283.6L371.2,286.2L366.2,286.4L363.7,287.4L364.1,289.8L365.5,291.4L368.0,293.2L368.7,295.3L369.6,294.0L371.5,295.8L371.7,293.8L372.6,291.1L375.8,290.1L378.8,292.2L381.1,291.7L383.8,293.0L387.7,291.4L391.8,292.2Z"/>
<path fill="#225ea8" d="M369.4,309.7L373.3,309.9L375.6,312.8L377.0,315.2L379.8,314.9L382.8,314.0L383.5,311.3L386.7,308.4L389.2,309.2L390.6,307.1L392.4,303.9L394.6,297.9L396.7,296.4L395.7,294.0L395.5,292.2L394.3,290.6L391.8,292.2L387.7,291.4L383.8,293.0L381.1,291.7L378.8,292.2L375.8,290.1L372.6,291.1L371.7,293.8L371.5,295.8L371.9,298.5L371.5,299.8L369.6,302.9L369.4,305.8Z"/>
<path fill="#1d91c0" d="M369.4,309.7L369.4,305.8L369.6,302.9L371.5,299.8L371.9,298.5L371.5,295.8L369.6,294.0L368.7,295.3L366.4,296.6L365.3,297.7L365.0,299.2L366.4,302.1L366.9,308.1L366.9,310.1Z"/>
<path fill="#41b6c4" d="M366.9,310.1L366.9,308.1L366.4,302.1L365.0,299.2L365.3,297.7L362.9,297.4L363.2,298.7L364.0,301.6L364.3,305.0L364.6,308.1L366.0,310.5Z"/>
<path fill="#1d91c0" d="M366.0,310.5L364.6,308.1L364.3,305.0L364.0,301.6L363.2,298.7L362.9,297.4L356.8,297.7L357.0,301.6L357.5,305.0L355.8,308.6L356.1,313.1L358.6,314.0L362.7,312.0Z"/>
<path fill="#225ea8" d="M363.7,287.4L364.1,289.8L365.5,291.4L368.0,293.2L368.7,295.3L366.4,296.6L365.3,297.7L362.9,297.4L356.8,297.7L357.0,301.6L354.5,300.5L352.4,301.1L350.6,299.2L351.3,296.6L353.1,294.8L353.6,291.9L355.2,291.9L356.6,289.8L358.6,289.3L361.6,287.1Z"/>
<path fill="#225ea8" d="M356.1,313.1L352.8,312.8L349.4,314.1L345.8,315.0L346.2,311.3L343.9,309.4L343.6,306.6L344.3,304.2L345.5,304.5L344.8,299.8L349.0,299.0L350.6,299.2L352.4,301.1L354.5,300.5L357.0,301.6L357.5,305.0L355.8,308.6Z"/>
<path fill="#41b6c4" d="M345.8,315.0L342.5,313.3L338.3,309.9L336.7,308.4L338.8,306.0L339.5,304.2L341.4,304.6L341.5,307.1L342.3,307.6L343.6,306.6L343.9,309.4L346.2,311.3Z"/>
<path fill="#7fcdbb" d="M336.7,308.4L334.4,307.1L332.6,304.2L332.6,302.8L334.5,300.5L337.5,300.3L338.8,302.1L339.5,304.2L338.8,306.0Z"/>
<path fill="#41b6c4" d="M332.6,302.8L329.7,299.2L328.7,297.8L329.9,296.4L331.8,295.8L331.8,293.4L334.8,294.0L337.1,294.0L337.5,295.1L338.7,295.3L341.9,294.0L343.0,296.9L344.2,297.7L344.8,299.8L345.5,304.5L344.3,304.2L343.6,306.6L342.3,307.6L341.5,307.1L341.4,304.6L339.5,304.2L338.8,302.1L337.5,300.3L334.5,300.5Z"/>
<path fill="#7fcdbb" d="M328.7,297.8L329.9,296.4L331.8,295.8L331.8,293.4L328.4,293.4L324.9,294.1L326.5,296.1Z"/>
<path fill="#225ea8" d="M324.9,294.1L324.7,292.2L324.8,290.9L323.2,288.0L325.6,284.5L330.2,282.9L332.6,284.6L335.3,287.7L336.0,291.4L337.1,294.0L334.8,294.0L331.8,293.4L328.4,293.4Z"/>
<path fill="#cff2be" d="M324.7,292.2L328.2,291.9L331.6,291.7L331.6,291.0L328.7,290.4L324.8,290.9Z"/>
<path fill="#41b6c4" d="M324.6,272.1L324.9,270.7L333.8,270.7L333.9,266.3L336.2,265.2L336.3,258.5L343.8,258.5L343.8,255.1L352.4,261.1L349.8,272.9L350.9,283.6L350.9,285.9L342.0,285.9L338.8,286.2L337.0,285.7L335.3,287.7L332.6,284.6L330.2,282.9L325.6,284.5L326.8,279.4L326.4,276.0L326.1,273.4Z"/>
<path fill="#1d91c0" d="M352.4,261.1L365.8,271.3L367.3,273.4L370.5,274.7L370.7,276.8L372.8,276.4L372.8,282.3L372.3,283.6L371.2,286.2L366.2,286.4L363.7,287.4L361.6,287.1L358.6,289.3L356.6,289.8L355.2,291.9L353.6,291.9L353.1,294.8L351.3,296.6L350.6,299.2L349.0,299.0L344.8,299.8L344.2,297.7L343.0,296.9L341.9,294.0L338.7,295.3L337.5,295.1L337.1,294.0L336.0,291.4L335.3,287.7L337.0,285.7L338.8,286.2L342.0,285.9L350.9,285.9L350.9,283.6L349.8,272.9Z"/>
<path fill="#1d91c0" d="M476.2,357.7L477.9,364.3L478.4,367.9L476.6,370.8L475.5,373.4L473.7,379.9L470.9,386.5L468.9,391.4L464.5,393.3L462.0,391.7L460.9,384.4L463.6,378.6L463.3,372.1L464.4,368.7L468.8,367.7L472.7,364.5L474.9,361.1Z"/>
<path fill="#225ea8" d="M539.1,198.5L540.0,198.3L541.1,199.9L546.1,201.9L549.5,205.0L550.9,208.6L556.6,209.3L561.3,211.0L565.1,214.9L572.8,215.1L576.8,215.5L584.6,217.8L588.8,215.8L592.6,215.6L594.5,214.9L596.3,212.4L594.5,208.8L598.4,209.7L602.0,207.3L603.9,205.5L606.2,204.6L608.4,204.5L603.8,201.5L602.8,202.3L597.4,201.1L597.1,196.7L599.9,197.6L601.5,195.4L600.8,192.2L600.3,189.9L598.8,189.4L599.5,188.0L604.1,187.4L609.0,188.7L614.9,193.0L617.5,195.6L619.1,197.0L623.6,197.8L627.0,199.2L629.5,202.2L632.6,202.2L635.9,200.4L636.5,200.2L636.6,202.9L638.2,208.8L635.3,208.3L634.3,209.4L637.1,212.9L637.3,215.8L634.9,214.5L635.4,215.6L632.6,216.8L630.5,217.4L629.9,219.6L627.7,222.1L624.0,224.3L622.5,225.2L622.1,222.2L622.3,220.7L621.2,219.6L619.3,220.2L617.6,222.2L615.3,224.1L614.8,224.8L618.9,228.2L620.0,229.3L622.5,227.7L626.9,228.7L624.6,230.8L623.7,232.4L622.4,235.0L625.6,236.8L628.5,241.0L631.7,243.6L632.4,245.7L630.7,247.3L633.5,248.3L633.9,252.5L632.5,255.4L631.3,259.5L628.7,262.7L626.1,265.5L621.2,268.2L619.4,268.4L615.8,270.0L612.8,271.0L613.5,273.4L611.9,273.4L611.6,270.5L609.5,270.1L607.4,270.2L604.9,269.2L603.8,266.9L600.4,265.4L597.8,267.6L595.6,267.6L593.7,267.9L593.2,271.2L591.8,270.1L589.4,270.2L587.2,268.7L587.0,266.1L585.2,263.7L582.8,264.0L582.4,261.6L584.3,258.8L583.3,254.3L582.4,254.3L580.0,252.8L576.7,249.6L574.1,250.1L571.1,251.4L569.4,253.7L567.5,253.8L564.8,253.1L562.7,252.9L561.6,255.1L561.0,253.1L559.5,253.5L557.0,253.3L554.2,252.8L552.5,251.7L549.4,249.9L545.4,247.8L542.5,247.5L538.7,245.4L536.6,244.1L536.2,241.5L536.4,240.2L535.3,236.8L532.1,233.7L529.8,233.4L527.8,232.4L525.9,230.0L524.5,229.1L525.1,228.7L523.6,225.9L521.3,225.9L520.2,223.4L520.3,222.0L521.8,220.7L524.5,220.9L525.9,219.4L528.5,219.1L531.8,216.3L532.2,213.7L528.9,209.3L532.8,207.8L532.5,203.4L537.7,203.7L536.9,200.4ZM614.5,274.2L614.1,277.3L612.1,278.9L609.8,277.3L609.8,276.0L611.3,274.2Z"/>
<path fill="#7fcdbb" d="M540.0,198.3L542.9,196.6L546.5,194.6L551.3,194.9L558.4,197.0L559.2,194.9L558.1,190.9L560.7,191.9L565.9,193.0L566.8,194.8L570.6,195.9L573.6,195.2L576.4,195.6L581.4,198.0L586.4,198.5L589.8,197.6L591.7,195.7L597.1,196.7L597.4,201.1L602.8,202.3L603.8,201.5L608.4,204.5L606.2,204.6L603.9,205.5L602.0,207.3L598.4,209.7L594.5,208.8L596.3,212.4L594.5,214.9L592.6,215.6L588.8,215.8L584.6,217.8L576.8,215.5L572.8,215.1L565.1,214.9L561.3,211.0L556.6,209.3L550.9,208.6L549.5,205.0L546.1,201.9L541.1,199.9Z"/>
<path fill="#f4fbc6" d="M627.7,222.1L629.9,219.6L630.5,217.4L632.6,216.8L635.4,215.6L634.9,214.5L637.3,215.8L637.7,216.0L636.9,218.3L637.7,219.6L636.0,222.0L635.2,223.8L638.0,225.6L635.7,226.4L635.4,227.7L634.2,227.8L632.6,228.0L630.8,226.9L631.1,225.4L630.3,223.3Z"/>
<path fill="#41b6c4" d="M572.1,272.2L572.6,270.8L572.3,268.9L573.4,268.4L573.7,266.3L573.1,263.7L574.9,264.0L575.7,260.8L576.3,258.2L577.8,255.4L579.4,254.8L580.0,252.8L582.4,254.3L583.3,254.3L584.3,258.8L582.4,261.6L582.8,264.0L585.2,263.7L587.0,266.1L587.2,268.7L589.4,270.2L591.8,270.1L590.8,272.1L589.9,273.3L588.5,273.4L587.4,274.7L585.4,275.0L584.5,278.1L587.5,282.0L588.0,284.4L587.4,286.7L589.9,290.4L590.4,293.5L591.5,295.6L590.0,299.2L589.5,300.3L589.0,295.1L587.8,289.8L586.2,285.9L584.6,282.3L582.7,283.3L580.8,285.1L578.0,284.6L578.1,279.9L575.1,274.7L573.4,273.4Z"/>
<path fill="#f4fbc6" d="M589.9,273.3L590.8,273.6L590.8,275.0L592.9,275.5L592.8,279.4L593.0,280.4L595.3,278.9L596.8,279.8L597.9,278.3L599.5,278.6L601.4,280.7L602.0,283.6L603.9,285.3L604.3,286.4L604.3,288.8L603.7,288.9L600.9,288.9L598.7,289.3L597.7,290.9L597.7,292.7L599.1,296.0L596.6,293.5L594.3,293.2L594.1,291.4L592.7,291.3L592.1,291.7L592.2,294.5L590.9,299.0L591.4,302.1L593.0,302.9L594.2,307.3L596.1,308.5L598.3,310.1L596.0,311.6L593.6,309.6L592.4,307.6L589.3,305.5L589.1,302.9L589.5,300.3L590.0,299.2L591.5,295.6L590.4,293.5L589.9,290.4L587.4,286.7L588.0,284.4L587.5,282.0L584.5,278.1L585.4,275.0L587.4,274.7L588.5,273.4Z"/>
<path fill="#41b6c4" d="M591.8,270.1L593.2,271.2L593.7,267.9L595.7,269.7L596.2,271.8L600.1,273.1L599.2,275.2L602.1,277.6L606.1,283.0L608.4,284.9L608.7,287.2L608.9,288.0L606.6,288.4L605.5,289.3L603.7,288.9L604.3,288.8L604.3,286.4L603.9,285.3L602.0,283.6L601.4,280.7L599.5,278.6L597.9,278.3L596.8,279.8L595.3,278.9L593.0,280.4L592.8,279.4L592.9,275.5L590.8,275.0L590.8,273.6L589.9,273.3L590.8,272.1Z"/>
<path fill="#1d91c0" d="M607.4,270.2L604.9,269.2L603.8,266.9L600.4,265.4L597.8,267.6L595.6,267.6L593.7,267.9L595.7,269.7L596.2,271.8L600.1,273.1L599.2,275.2L602.1,277.6L606.1,283.0L608.4,284.9L608.7,287.2L608.9,288.0L609.1,290.4L609.7,293.8L607.1,295.8L606.0,295.8L606.0,297.9L604.3,297.8L603.0,299.2L603.9,300.8L604.1,303.9L605.2,303.4L608.1,301.3L609.1,299.2L611.5,297.9L613.6,295.8L613.7,292.7L613.2,290.4L611.8,286.4L610.2,284.4L607.4,282.3L605.4,279.9L603.4,277.0L603.2,274.4L604.8,272.9L606.1,271.3Z"/>
<path fill="#1d91c0" d="M599.1,296.0L597.7,292.7L597.7,290.9L598.7,289.3L600.9,288.9L603.7,288.9L605.5,289.3L606.6,288.4L608.9,288.0L609.1,290.4L609.7,293.8L607.1,295.8L606.0,295.8L606.0,297.9L604.3,297.8L603.0,299.2L600.7,298.7L599.7,297.1Z"/>
<path fill="#f4fbc6" d="M593.6,309.6L596.0,311.6L598.3,310.1L601.4,313.9L601.6,317.3L603.6,322.7L601.9,323.0L598.9,320.7L596.8,318.6L595.0,315.4L594.2,312.0ZM616.1,321.0L617.6,322.0L619.2,322.5L620.1,320.1L623.7,318.0L625.9,314.4L629.0,312.3L630.5,310.7L632.0,308.1L634.2,309.7L635.4,311.3L637.8,312.8L636.5,314.9L634.2,315.5L630.5,315.2L629.8,315.4L629.5,318.6L628.4,320.1L628.0,322.7L623.9,322.7L622.0,322.7L621.1,323.8L618.1,324.2L616.1,322.2L616.1,321.0Z"/>
<path fill="#0c2c84" d="M582.5,311.8L587.8,312.8L589.7,315.2L593.8,319.3L596.1,320.7L599.2,323.0L600.8,324.3L602.4,326.4L602.0,329.0L604.0,329.3L605.1,332.4L607.8,334.2L607.2,337.9L607.0,341.5L604.1,341.0L601.7,338.9L599.0,336.6L596.1,332.9L594.8,329.0L591.8,325.6L590.9,322.0L587.3,318.0L584.4,315.2ZM607.3,341.8L609.6,341.9L612.5,342.9L613.4,344.2L617.3,344.4L618.5,343.1L622.3,344.4L622.7,345.5L626.3,346.8L626.6,349.1L623.0,348.1L618.4,347.9L613.9,346.6L610.9,346.5L608.0,345.7L605.6,344.3ZM626.5,347.8L629.3,347.8L628.9,349.1L627.3,349.1ZM629.9,348.3L631.5,348.3L631.0,349.8L629.6,349.4ZM631.7,348.6L634.6,347.8L637.3,348.6L636.5,349.4L632.1,350.0ZM638.7,348.3L641.4,348.1L645.6,347.8L646.0,348.3L643.6,349.6L639.0,349.5ZM636.6,351.2L639.4,350.9L640.8,352.8L638.7,353.3L636.5,352.0ZM646.7,353.4L648.8,352.9L650.4,350.9L650.3,349.9L648.8,350.7L647.1,351.5ZM616.1,322.2L614.6,323.3L614.4,325.4L615.1,328.2L616.9,330.8L617.1,334.0L620.5,334.5L623.7,335.0L627.4,336.1L627.5,337.2L630.6,336.3L631.9,332.9L631.9,330.3L634.3,328.2L634.3,325.1L635.0,324.3L637.7,323.8L635.3,320.7L634.5,317.8L634.2,315.5L630.5,315.2L629.8,315.4L629.5,318.6L628.4,320.1L628.0,322.7L623.9,322.7L622.0,322.7L621.1,323.8L618.1,324.2L616.1,322.2ZM639.6,326.7L639.8,324.3L641.9,323.0L645.8,323.8L649.9,323.3L652.0,322.1L650.4,325.2L647.0,325.1L643.5,325.1L640.7,325.4L640.3,328.8L643.5,328.8L647.6,328.0L647.9,329.0L645.1,330.6L643.4,331.4L645.2,335.0L647.1,337.4L646.1,338.9L644.3,338.7L642.8,336.3L642.0,333.5L640.6,334.2L640.6,338.9L640.5,340.8L638.4,340.8L638.7,335.5L637.1,333.7L637.7,331.6L638.9,329.0ZM657.9,320.7L660.1,322.5L659.0,325.1L660.3,325.6L658.3,328.5L657.6,324.3ZM658.3,334.2L664.7,335.0L662.9,335.8L658.7,335.5ZM653.9,334.8L656.4,335.0L655.5,336.3L653.6,335.8ZM665.4,328.5L668.9,327.4L672.6,328.5L672.7,332.7L674.4,335.0L678.0,332.1L681.5,330.6L684.9,331.9L688.3,333.2L687.7,344.4L687.2,350.2L684.9,347.6L681.0,348.3L680.0,345.7L682.4,344.4L681.0,340.8L676.6,338.4L672.1,336.6L670.4,336.8L669.4,335.0L667.6,334.0L671.8,332.7L668.1,332.1L665.4,330.1ZM605.9,330.6L608.2,330.6L609.2,334.2L607.6,333.5ZM672.2,341.5L673.6,341.8L672.8,344.2L671.9,343.6ZM664.8,346.2L666.2,345.5L665.9,347.3ZM649.2,348.1L650.9,347.8L649.7,348.6ZM586.9,322.7L588.8,324.0L588.4,324.8ZM590.9,329.5L592.2,331.1L591.3,330.8Z"/>
<path fill="#cff2be" d="M650.3,349.9L652.7,348.6L655.9,348.3L654.2,349.9L651.3,351.2L650.4,350.9Z"/>
<path fill="#0c2c84" d="M637.2,278.1L640.2,278.6L640.8,278.1L641.7,282.0L640.6,285.1L641.1,288.5L643.7,289.1L646.6,290.4L647.5,293.5L645.3,292.4L643.5,291.1L641.5,290.1L639.1,290.4L639.5,288.3L637.6,287.7L636.6,284.1L637.2,280.7ZM644.0,308.1L645.7,306.0L647.6,303.9L649.9,304.2L651.4,300.8L653.6,305.0L654.3,308.1L653.7,309.9L652.5,308.1L652.0,311.8L649.2,310.2L648.5,307.6L646.9,306.8ZM647.9,293.8L650.2,293.8L651.5,297.1L650.0,297.7L648.7,296.1ZM648.5,296.6L650.0,297.9L650.7,300.0L649.8,300.3L648.7,298.5ZM644.3,297.9L646.6,297.9L646.3,302.6L644.6,301.6ZM642.9,295.6L645.5,296.4L644.6,299.0L643.2,299.0ZM646.7,301.6L647.6,297.1L647.3,300.3ZM647.6,301.1L649.3,300.0L649.2,301.3ZM638.5,291.1L641.3,291.7L640.9,294.5L639.7,293.5ZM632.7,304.5L634.8,302.6L637.0,299.0L637.7,296.6L636.7,297.9L634.3,302.1ZM645.5,294.0L647.4,294.5L646.5,295.3Z"/>
<path fill="#7fcdbb" d="M688.3,333.2L691.7,334.8L696.3,336.3L699.1,340.0L701.7,341.8L703.5,342.3L701.8,343.9L703.4,347.0L706.1,349.9L709.2,353.0L706.4,353.3L702.8,352.5L701.2,350.9L699.0,347.6L695.6,346.2L693.2,348.1L690.7,350.4L687.2,350.2L687.7,344.4ZM704.8,340.8L709.2,339.5L712.3,337.4L714.2,337.6L713.1,340.8L708.6,342.6L704.9,342.1ZM710.9,333.2L714.1,335.3L715.7,338.4L714.9,336.8L711.8,334.2ZM719.5,340.8L722.0,343.9L720.7,343.6ZM701.3,331.6L703.2,331.6L702.2,332.4Z"/>
<path fill="#7fcdbb" d="M723.4,343.9L725.6,345.5L724.4,345.5ZM727.8,346.2L730.6,348.3L729.5,348.1ZM729.9,350.7L732.5,352.0L730.7,352.0ZM732.5,348.3L734.0,350.9L733.2,350.4ZM733.5,353.3L735.6,354.6L734.3,354.3Z"/>
<path fill="#cff2be" d="M743.9,364.8L745.0,366.1L744.2,367.4L743.5,366.6ZM744.8,368.2L745.6,369.5L744.7,369.8ZM745.9,372.4L746.7,372.9L745.9,373.1Z"/>
<path fill="#cff2be" d="M766.6,372.1L769.6,372.1L769.1,373.9L766.2,373.9ZM770.8,369.2L773.6,368.7L772.3,370.3Z"/>
<path fill="#f4fbc6" d="M409.9,192.5L408.9,190.5L410.1,189.5L408.9,186.4L410.6,186.6L412.8,185.6L412.9,184.1L414.7,183.1L414.1,182.2L416.9,181.0L419.5,182.1L422.4,182.4L422.7,183.8L424.9,186.1L427.0,187.5L426.0,188.5L424.6,188.3L425.9,191.0L423.7,193.0L421.1,192.8L417.0,191.9L413.1,191.4Z"/>
<path fill="#225ea8" d="M409.9,192.5L413.1,191.4L417.0,191.9L421.1,192.8L423.7,193.0L425.9,191.0L429.7,190.3L431.2,191.8L430.7,192.3L433.6,193.8L434.3,195.3L437.9,195.3L439.3,196.6L443.7,197.3L443.7,199.9L444.3,201.8L442.0,201.8L441.2,203.7L438.3,204.6L435.6,205.7L435.3,207.3L438.5,208.0L436.4,209.1L433.7,210.6L432.7,210.3L432.6,208.6L430.2,208.0L432.3,206.5L429.9,206.2L427.7,205.0L426.2,205.2L425.3,207.0L424.5,208.6L421.3,207.9L421.9,207.8L422.4,205.5L424.7,205.5L422.7,202.7L422.3,201.4L418.8,200.2L417.1,200.8L413.8,202.2L409.7,201.4L408.0,200.4L408.6,198.6L408.8,197.3L411.2,194.2Z"/>
<path fill="#7fcdbb" d="M421.3,207.9L421.9,207.8L422.4,205.5L424.7,205.5L422.7,202.7L422.3,201.4L418.8,200.2L417.1,200.8L419.0,202.4L420.7,205.0Z"/>
<path fill="#41b6c4" d="M403.4,206.1L404.8,206.2L407.4,208.6L407.7,209.6L409.8,209.8L410.3,211.1L409.9,212.4L411.3,213.7L410.2,216.0L408.6,216.1L408.9,215.0L408.0,214.2L406.6,213.6L405.8,214.7L403.9,213.7L403.3,212.8L403.8,211.6L402.8,210.6L403.3,209.4L402.6,207.8L402.1,206.7Z"/>
<path fill="#f4fbc6" d="M405.8,214.7L406.6,213.6L408.0,214.2L408.9,215.0L408.6,216.1L407.5,216.3L406.6,217.1L405.3,215.3Z"/>
<path fill="#cff2be" d="M402.0,215.8L401.9,214.2L402.3,213.7L403.3,212.8L403.9,213.7L405.8,214.7L405.3,215.3L404.3,215.2L403.8,216.3L404.0,217.2L403.4,216.5Z"/>
<path fill="#cff2be" d="M406.6,217.1L407.5,216.3L408.6,216.1L410.2,216.0L411.7,217.4L411.7,218.5L410.1,219.0L408.9,219.6L407.7,219.8L406.5,218.6Z"/>
<path fill="#cff2be" d="M395.8,209.6L396.2,208.6L398.1,208.4L400.4,208.8L402.5,209.3L403.3,209.4L402.8,210.6L403.8,211.6L403.3,212.8L402.3,213.7L401.9,214.2L402.0,215.4L400.1,214.5L400.0,214.0L398.0,212.1L396.9,211.1L395.9,209.8Z"/>
<path fill="#cff2be" d="M308.5,287.0L309.3,286.1L310.1,287.0L309.3,287.8ZM307.1,283.0L307.9,282.3L308.5,283.0L307.8,283.8ZM310.1,284.4L310.8,283.6L311.4,284.4L310.7,285.1Z"/>
<path fill="#cff2be" d="M377.7,325.7L378.4,325.0L379.1,325.7L378.4,326.5Z"/>
<path fill="#cff2be" d="M461.8,357.0L462.6,356.1L463.4,357.0L462.6,357.8ZM464.3,358.3L465.0,357.6L465.6,358.3L464.9,359.0Z"/>
<path fill="#cff2be" d="M492.7,379.4L493.7,378.5L494.6,379.4L493.6,380.4Z"/>
<path fill="#cff2be" d="M531.8,315.4L532.3,314.8L532.9,315.4L532.4,316.0ZM531.6,321.2L532.0,320.7L532.5,321.2L532.0,321.6Z"/>
<path fill="#cff2be" d="M-31.9,362.2L-31.3,361.5L-30.5,362.2L-31.1,362.9Z"/>
<path fill="#cff2be" d="M-33.5,381.8L-33.1,381.2L-32.4,381.8L-32.8,382.4Z"/>
<path fill="#225ea8" d="M761.8,322.7L762.2,322.3L762.7,322.7L762.3,323.2ZM-0.3,321.4L0.4,320.7L1.1,321.4L0.4,322.1Z"/>
<path fill="#cff2be" d="M726.8,308.4L727.3,307.9L727.8,308.4L727.3,308.8Z"/>
<path fill="#1d91c0" d="M450.7,218.1L452.9,218.1L455.2,219.1L456.1,221.7L458.6,222.8L458.3,226.1L458.1,227.4L459.7,229.4L454.5,229.5L451.6,229.5L449.5,230.3L446.8,230.6L443.1,230.6L442.6,231.9L442.0,232.4L441.5,232.8L440.9,231.6L441.4,230.6L439.9,230.8L437.9,230.3L435.9,232.1L434.2,232.4L432.4,231.1L429.2,230.3L427.5,231.9L424.1,230.6L422.3,229.8L421.5,226.1L419.3,223.8L418.7,222.0L421.5,220.9L424.7,220.7L424.7,219.1L428.7,219.1L433.3,216.8L437.0,216.7L440.3,218.6L444.4,219.5L447.8,219.4ZM418.4,220.2L418.8,217.6L422.1,216.8L424.7,218.9L424.3,219.4L421.4,219.5L419.9,220.9Z"/>
<path fill="#41b6c4" d="M446.7,213.2L452.0,213.7L455.0,215.0L457.5,215.0L461.0,217.1L461.7,219.1L458.3,218.7L455.2,219.1L452.9,218.1L450.7,218.1L450.9,216.5L450.3,215.8Z"/>
<path fill="#7fcdbb" d="M455.2,219.1L458.3,218.7L460.0,220.9L461.3,223.5L462.6,224.8L461.7,224.8L460.2,223.3L458.6,222.8L456.1,221.7Z"/>
<path fill="#cff2be" d="M458.3,218.7L461.7,219.1L461.0,217.1L463.1,218.6L465.5,217.2L467.3,219.4L469.9,220.9L468.1,221.5L468.2,223.8L468.0,226.0L465.9,225.1L466.2,223.5L463.5,224.1L462.6,224.8L461.3,223.5L460.0,220.9ZM458.6,222.8L460.2,223.3L461.7,224.8L460.2,224.7L459.0,223.8Z"/>
<path fill="#7fcdbb" d="M441.5,232.8L442.0,232.4L442.6,231.9L443.1,230.6L446.8,230.6L449.5,230.3L451.6,229.5L454.5,229.5L452.5,231.3L453.0,233.4L452.6,236.6L448.1,239.2L444.1,242.0L442.0,241.0L441.5,241.0L441.6,239.4L443.1,237.1L442.5,236.0L441.5,235.9L441.2,234.5Z"/>
<path fill="#1d91c0" d="M441.5,235.9L442.5,236.0L443.1,237.1L441.6,239.4L440.1,240.0L440.7,237.9Z"/>
<path fill="#7fcdbb" d="M440.5,241.4L441.3,241.8L441.4,244.1L440.4,244.4L440.2,243.6L440.1,242.3Z"/>
<path fill="#225ea8" d="M441.5,241.0L442.0,241.0L444.1,242.0L448.1,239.2L449.4,242.4L444.7,244.1L447.2,246.7L446.3,248.1L444.6,248.4L443.3,250.1L440.8,249.7L440.8,249.2L441.4,245.7L441.4,244.1L441.3,241.8Z"/>
<path fill="#7fcdbb" d="M454.5,229.5L459.7,229.4L461.3,232.4L463.4,233.2L463.2,234.7L462.5,237.6L464.2,240.2L468.1,242.6L468.7,245.4L469.4,246.9L470.7,248.2L469.5,248.2L468.8,247.8L468.2,248.1L466.6,250.4L462.4,250.1L455.9,245.2L452.1,243.1L449.4,242.4L448.1,239.2L452.6,236.6L453.0,233.4L452.5,231.3Z"/>
<path fill="#41b6c4" d="M460.8,283.6L461.6,282.8L461.7,281.0L464.7,281.0L466.1,281.0L469.5,281.2L471.4,281.7L472.8,278.9L474.7,277.8L481.2,276.8L484.2,282.9L482.3,285.7L479.6,286.7L475.6,288.5L471.9,290.9L466.4,293.0L462.8,293.4L462.1,291.7L461.2,287.7Z"/>
<path fill="#f4fbc6" d="M458.6,222.8L459.0,223.8L460.2,224.7L461.7,224.8L462.6,224.8L463.5,224.1L466.2,223.5L465.9,225.1L468.0,226.0L469.3,228.5L471.6,229.3L474.5,230.8L477.6,230.3L479.7,230.0L479.3,228.9L481.1,228.6L482.3,227.2L483.8,226.9L485.9,226.5L488.8,228.2L490.8,228.5L493.5,230.8L495.4,230.7L496.1,233.4L495.4,236.8L495.5,238.4L497.1,242.3L497.3,244.1L499.2,244.4L499.7,245.8L498.1,248.4L500.3,251.2L503.0,252.6L503.4,255.4L504.7,256.7L501.8,258.0L501.4,260.6L495.5,260.1L491.6,259.3L490.3,255.9L485.5,257.2L481.6,255.9L477.7,253.5L476.1,250.9L474.1,247.5L471.5,246.7L470.7,248.2L469.4,246.9L468.7,245.4L468.1,242.6L464.2,240.2L462.5,237.6L463.2,234.7L463.4,233.2L461.3,232.4L459.7,229.4L458.1,227.4L458.3,226.1Z"/>
<path fill="#f4fbc6" d="M479.3,228.9L478.2,224.6L476.4,223.5L475.7,222.0L474.7,219.4L474.7,218.6L473.7,217.4L476.8,215.9L480.3,218.6L481.4,218.6L483.7,218.7L483.8,216.3L485.9,214.7L487.0,215.5L489.3,216.3L490.0,218.3L492.9,218.7L495.9,222.0L500.4,224.7L506.2,227.2L506.4,228.9L504.6,228.5L502.9,229.5L502.7,231.6L499.9,232.8L498.5,234.2L496.1,233.4L495.4,230.7L493.5,230.8L490.8,228.5L488.8,228.2L485.9,226.5L483.8,226.9L482.3,227.2L481.1,228.6Z"/>
<path fill="#225ea8" d="M481.4,218.6L478.9,209.1L484.0,207.7L489.8,210.6L492.5,212.9L498.4,212.4L501.5,214.3L501.7,215.8L503.1,216.9L506.7,219.0L508.9,218.5L512.1,216.1L511.3,218.1L514.3,218.3L517.8,219.9L516.0,221.2L513.2,221.5L513.4,221.5L512.4,219.6L509.9,219.9L508.9,221.5L509.2,223.1L506.9,223.3L507.9,224.6L509.6,226.4L509.3,229.3L506.4,228.9L506.2,227.2L500.4,224.7L495.9,222.0L492.9,218.7L490.0,218.3L489.3,216.3L487.0,215.5L485.9,214.7L483.8,216.3L483.7,218.7Z"/>
<path fill="#7fcdbb" d="M473.7,217.4L473.0,215.0L470.2,213.7L467.6,210.9L469.1,208.3L472.6,208.3L471.5,204.2L467.7,203.7L463.7,205.5L462.5,205.0L459.3,201.9L457.3,200.4L457.8,198.3L457.0,196.6L460.3,194.8L463.7,192.0L467.2,192.5L471.5,193.8L474.2,194.8L479.7,193.8L482.4,194.3L485.4,194.3L481.7,191.5L482.1,186.4L485.7,185.8L489.5,185.4L494.6,183.8L499.2,183.1L501.3,185.8L506.0,186.3L508.4,187.3L511.5,185.8L515.4,188.0L522.5,194.3L523.3,193.0L529.0,193.8L534.0,196.3L539.1,198.5L536.9,200.4L537.7,203.7L532.5,203.4L532.8,207.8L528.9,209.3L532.2,213.7L531.8,216.3L528.7,214.7L522.3,214.5L518.5,213.7L517.4,215.5L512.3,216.0L512.1,216.1L508.9,218.5L506.7,219.0L503.1,216.9L501.7,215.8L501.5,214.3L498.4,212.4L492.5,212.9L489.8,210.6L484.0,207.7L478.9,209.1L481.4,218.6L480.3,218.6L476.8,215.9Z"/>
<path fill="#7fcdbb" d="M531.8,216.3L528.7,214.7L522.3,214.5L518.5,213.7L517.4,215.5L512.3,216.0L512.1,216.1L511.3,218.1L514.3,218.3L517.8,219.9L516.0,221.2L513.4,221.5L510.9,223.1L513.4,223.0L516.7,223.5L520.2,223.4L520.3,222.0L521.8,220.7L524.5,220.9L525.9,219.4L528.5,219.1Z"/>
<path fill="#41b6c4" d="M509.3,229.3L509.6,226.4L507.9,224.6L506.9,223.3L509.2,223.1L508.9,221.5L509.9,219.9L512.4,219.6L513.4,221.5L510.9,223.1L513.4,223.0L516.7,223.5L520.2,223.4L521.3,225.9L523.6,225.9L525.1,228.7L524.5,229.1L521.0,228.6L517.6,230.6L516.3,227.2L515.1,226.0L514.0,227.4L513.0,229.4L509.8,229.8Z"/>
<path fill="#225ea8" d="M498.1,248.4L499.7,245.8L499.2,244.4L497.3,244.1L497.1,242.3L495.5,238.4L495.4,236.8L496.1,233.4L498.5,234.2L499.9,232.8L502.7,231.6L502.9,229.5L504.6,228.5L506.4,228.9L509.3,229.3L509.8,229.8L513.0,229.4L514.0,227.4L515.1,226.0L516.3,227.2L517.6,230.6L521.0,228.6L524.5,229.1L521.8,230.0L519.7,230.3L518.0,231.3L517.4,232.4L518.8,234.5L518.3,236.8L516.0,237.6L517.1,239.4L515.5,240.2L515.7,243.1L513.3,243.3L512.7,244.7L510.3,244.9L509.8,245.7L510.1,248.3L505.2,249.6L501.9,249.6L498.1,248.4Z"/>
<path fill="#225ea8" d="M498.1,248.4L501.9,249.6L505.2,249.6L510.1,248.3L509.8,245.7L510.3,244.9L512.7,244.7L513.3,243.3L515.7,243.1L515.5,240.2L517.1,239.4L516.0,237.6L518.3,236.8L518.8,234.5L517.4,232.4L518.0,231.3L519.7,230.3L521.8,230.0L524.5,229.1L525.9,230.0L527.8,232.4L529.8,233.4L532.1,233.7L530.7,235.9L527.7,236.3L524.3,235.8L524.6,237.6L525.8,240.2L528.7,242.0L527.3,243.6L527.8,245.2L526.8,247.5L525.1,250.7L524.1,251.2L523.4,253.5L520.0,253.3L518.6,255.4L520.0,256.9L520.5,259.3L522.8,262.7L517.9,262.9L516.7,264.5L515.0,263.7L513.7,261.6L512.3,260.1L507.9,260.5L503.4,260.6L501.4,260.6L501.8,258.0L504.7,256.7L503.4,255.4L503.0,252.6L500.3,251.2Z"/>
<path fill="#225ea8" d="M564.5,269.5L563.2,265.8L561.2,262.4L561.6,259.8L561.1,257.5L564.3,258.5L564.7,260.3L570.6,260.8L570.0,262.7L568.3,263.5L568.9,265.8L569.9,266.3L571.0,264.5L572.3,268.9L572.6,270.8L572.1,272.2L570.4,268.2L568.1,267.6L567.1,269.2Z"/>
<path fill="#41b6c4" d="M542.5,247.5L541.1,251.1L544.8,253.3L549.1,254.8L552.3,255.4L555.1,256.9L557.8,257.5L560.3,257.5L559.5,253.5L557.0,253.3L554.2,252.8L552.5,251.7L549.4,249.9L545.4,247.8Z"/>
<path fill="#7fcdbb" d="M561.6,255.1L562.1,256.4L564.0,256.7L566.6,256.4L569.0,256.3L567.5,253.8L564.8,253.1L562.7,252.9Z"/>
<path fill="#0c2c84" d="M516.7,264.5L517.9,262.9L522.8,262.7L520.5,259.3L520.0,256.9L518.6,255.4L520.0,253.3L523.4,253.5L524.1,251.2L525.1,250.7L526.8,247.5L527.8,245.2L527.3,243.6L528.7,242.0L525.8,240.2L524.6,237.6L524.3,235.8L527.7,236.3L530.7,235.9L532.1,233.7L535.3,236.8L536.4,240.2L536.2,241.5L536.6,244.1L538.7,245.4L542.5,247.5L541.1,251.1L544.8,253.3L549.1,254.8L552.3,255.4L555.1,256.9L557.8,257.5L560.3,257.5L559.5,253.5L561.0,253.1L561.6,255.1L562.1,256.4L564.0,256.7L566.6,256.4L569.0,256.3L567.5,253.8L569.4,253.7L571.1,251.4L574.1,250.1L576.7,249.6L580.0,252.8L579.4,254.8L577.8,255.4L576.3,258.2L575.7,260.8L574.9,264.0L573.1,263.7L573.7,266.3L573.4,268.4L572.3,268.9L571.0,264.5L569.9,266.3L568.9,265.8L568.3,263.5L570.0,262.7L570.6,260.8L564.7,260.3L564.3,258.5L561.1,257.5L561.6,259.8L561.2,262.4L563.2,265.8L564.5,269.5L562.5,269.7L559.9,270.5L559.9,272.3L559.0,274.2L556.0,275.7L554.1,278.6L550.7,282.8L548.4,284.6L546.5,285.9L546.4,289.8L547.0,292.2L546.3,295.1L546.5,299.5L544.7,302.1L542.9,303.2L541.5,305.3L539.3,303.2L538.2,300.3L535.8,295.6L534.7,292.7L532.5,287.7L531.6,285.9L530.1,282.0L528.4,276.8L527.8,273.4L527.4,271.3L527.0,269.5L526.2,268.4L526.2,271.0L523.9,272.3L521.5,271.3L518.9,268.2L521.5,266.6L518.2,265.8Z"/>
<path fill="#41b6c4" d="M546.7,301.1L547.6,300.8L548.9,302.1L550.1,304.2L551.4,306.8L551.7,308.1L550.6,310.2L548.8,310.9L547.4,310.2L546.8,308.1L546.5,305.2Z"/>
<path fill="#1d91c0" d="M185.3,303.7L186.3,305.5L187.8,303.2L189.5,301.3L189.9,299.0L191.6,297.4L195.1,296.9L198.9,294.0L199.7,295.6L198.1,296.1L196.9,297.4L195.5,301.6L196.7,304.5L196.6,307.1L200.5,307.9L203.4,310.5L207.8,310.2L207.0,314.6L208.1,317.5L206.9,319.1L208.6,323.3L202.2,322.0L203.8,324.8L201.7,325.1L201.7,326.9L203.1,329.5L201.9,337.4L200.2,336.3L201.1,333.2L199.5,332.4L196.0,332.7L193.7,330.8L191.8,328.8L189.5,326.7L187.2,325.4L184.4,324.6L181.2,322.7L182.2,319.6L185.3,316.5L184.7,312.0L185.3,308.1L183.9,307.6Z"/>
<path fill="#f4fbc6" d="M199.7,295.6L198.1,296.1L196.9,297.4L195.5,301.6L196.7,304.5L196.6,307.1L200.5,307.9L203.4,310.5L207.8,310.2L207.0,314.6L208.1,317.5L206.9,319.1L208.6,323.3L210.3,324.4L212.1,324.0L213.3,323.3L215.6,321.4L217.0,320.7L215.6,319.9L215.2,315.7L218.4,316.7L218.7,316.0L222.6,314.6L223.4,312.8L221.8,311.0L222.6,308.9L224.4,308.1L223.8,307.1L225.7,304.7L225.3,303.9L223.1,301.3L220.8,300.3L219.1,298.7L221.1,298.5L215.6,299.2L211.7,298.7L207.1,298.7L206.3,297.1L202.8,294.5L202.0,296.6L199.8,297.9L200.1,300.8L198.5,302.1L197.9,299.5L198.9,297.7Z"/>
<path fill="#cff2be" d="M225.3,303.9L225.7,304.7L223.8,307.1L224.4,308.1L222.6,308.9L221.8,311.0L223.4,312.8L225.0,313.1L224.7,314.6L225.8,316.0L225.3,317.5L224.8,319.3L227.1,323.0L229.4,322.5L232.9,321.4L231.1,317.8L229.5,316.0L231.2,312.8L231.7,310.7L228.6,308.4L227.5,306.0Z"/>
<path fill="#cff2be" d="M231.7,310.7L231.2,312.8L229.5,316.0L231.1,317.8L232.9,321.4L234.3,321.2L234.3,319.9L237.3,320.4L238.2,318.0L237.8,315.4L238.8,311.3L235.4,310.7Z"/>
<path fill="#1d91c0" d="M244.1,315.4L241.9,319.9L239.8,320.4L237.3,320.4L234.3,319.9L234.3,321.2L232.9,321.4L229.4,322.5L227.1,323.0L224.8,319.3L225.3,317.5L225.8,316.0L224.7,314.6L225.0,313.1L223.4,312.8L222.6,314.6L218.7,316.0L218.4,316.7L215.2,315.7L215.6,319.9L217.0,320.7L215.6,321.4L213.3,323.3L212.1,324.0L210.3,324.4L208.6,323.3L202.2,322.0L203.8,324.8L201.7,325.1L201.7,326.9L203.1,329.5L201.9,337.4L195.3,339.7L194.7,342.3L193.0,346.0L195.0,350.9L197.4,352.5L201.0,351.2L201.2,355.1L203.5,355.0L205.6,355.1L210.2,352.3L213.0,351.7L213.5,356.4L215.7,358.8L219.4,360.4L221.8,361.7L224.8,362.4L225.9,368.7L230.1,369.0L230.5,371.6L232.5,373.4L232.0,376.0L231.4,379.2L232.7,384.1L237.5,384.6L238.6,389.1L241.1,389.3L240.8,393.3L242.6,393.3L243.2,396.7L240.7,399.5L239.0,400.3L235.7,405.3L239.5,406.8L240.7,407.4L244.4,409.7L246.0,411.8L246.5,414.4L248.4,410.5L251.1,406.1L254.6,400.8L254.7,395.6L254.5,393.0L258.6,389.3L262.9,387.0L268.5,386.2L270.6,383.9L272.6,378.6L274.0,372.9L274.1,365.6L275.1,360.4L277.9,355.9L281.6,350.7L283.1,345.5L281.9,340.0L278.0,338.9L274.5,336.1L271.0,333.7L266.4,333.7L261.0,332.9L257.1,329.3L252.5,328.2L251.1,330.6L247.9,327.2L247.9,322.0L245.7,316.2Z"/>
<path fill="#41b6c4" d="M181.2,322.7L184.4,324.6L187.2,325.4L189.5,326.7L188.8,330.3L186.3,333.2L183.4,334.8L182.5,337.9L181.2,339.5L177.9,337.9L178.1,335.3L178.9,332.9L176.6,332.4L177.3,328.8L178.6,326.1L178.6,324.3Z"/>
<path fill="#225ea8" d="M178.1,335.3L177.9,337.9L181.2,339.5L182.5,337.9L183.4,334.8L186.3,333.2L188.8,330.3L189.5,326.7L191.8,328.8L193.7,330.8L196.0,332.7L199.5,332.4L201.1,333.2L200.2,336.3L201.9,337.4L195.3,339.7L194.7,342.3L193.0,346.0L195.0,350.9L197.4,352.5L201.0,351.2L201.2,355.1L203.5,355.0L205.8,359.0L205.3,362.2L205.7,366.4L204.4,367.4L205.9,369.5L205.1,372.1L203.2,374.3L200.5,371.6L195.6,369.0L191.5,366.4L188.7,362.7L186.3,358.0L183.6,352.5L181.5,347.8L179.0,343.4L176.2,342.1L175.9,338.7Z"/>
<path fill="#1d91c0" d="M203.5,355.0L205.6,355.1L210.2,352.3L213.0,351.7L213.5,356.4L215.7,358.8L219.4,360.4L221.8,361.7L224.8,362.4L225.9,368.7L230.1,369.0L230.5,371.6L232.5,373.4L232.0,376.0L231.4,379.2L229.1,376.8L223.3,377.6L222.2,379.9L221.9,384.5L221.4,383.9L218.2,385.9L216.0,384.1L213.4,383.3L211.7,385.9L209.9,383.9L209.0,382.0L208.1,380.2L207.1,377.1L206.6,376.0L205.1,372.1L205.9,369.5L204.4,367.4L205.7,366.4L205.3,362.2L205.8,359.0Z"/>
<path fill="#1d91c0" d="M231.4,379.2L232.7,384.1L237.5,384.6L238.6,389.1L241.1,389.3L240.8,393.3L240.9,395.9L238.5,398.0L232.4,397.7L234.0,392.5L228.2,389.1L225.9,388.6L221.9,384.5L222.2,379.9L223.3,377.6L229.1,376.8Z"/>
<path fill="#1d91c0" d="M221.9,384.5L225.9,388.6L228.2,389.1L234.0,392.5L232.4,397.7L238.5,398.0L240.9,395.9L240.8,393.3L242.6,393.3L243.2,396.7L240.7,399.5L239.0,400.3L235.7,405.3L235.4,408.7L235.6,412.6L235.7,415.2L236.0,416.8L239.1,419.1L239.2,420.9L240.7,421.7L239.6,425.9L237.0,427.4L230.7,428.0L231.4,432.4L225.7,433.4L226.6,436.5L229.6,437.6L227.4,439.1L227.8,443.7L224.5,446.3L229.0,449.4L229.3,451.4L227.4,455.2L225.5,457.7L228.7,462.5L225.1,461.5L221.3,461.5L219.9,460.5L219.2,458.2L216.1,455.2L216.5,452.7L216.1,447.6L214.5,442.5L213.0,438.6L211.7,434.7L210.8,429.5L211.2,425.6L209.3,421.7L210.2,418.3L210.9,415.7L209.8,412.6L207.8,408.7L208.5,405.5L208.1,400.8L210.6,396.9L209.7,392.2L211.8,389.1L211.7,385.9L213.4,383.3L216.0,384.1L218.2,385.9L221.4,383.9ZM228.5,463.1L229.9,464.5L233.1,466.5L237.3,468.2L235.2,469.1L230.9,468.7Z"/>
<path fill="#cff2be" d="M106.1,241.5L111.1,241.5L118.4,244.7L124.6,244.7L125.0,243.3L128.7,243.3L131.5,249.1L134.4,250.7L136.0,248.6L139.2,249.1L141.2,254.6L145.5,258.8L142.6,267.6L143.1,272.9L145.3,276.8L148.4,278.9L154.2,277.8L157.5,275.5L158.7,271.6L164.3,270.0L167.0,270.8L164.8,275.5L162.6,278.1L160.6,279.9L156.2,279.9L156.0,281.5L157.1,283.6L154.5,284.4L152.7,286.7L152.5,288.5L148.8,284.4L143.0,285.4L137.6,282.8L131.3,279.4L127.1,276.8L124.3,272.9L125.2,270.2L124.3,266.3L120.8,261.1L118.4,256.7L115.9,253.3L114.0,248.1L113.9,244.9L110.5,243.3L109.2,248.1L111.5,253.3L113.5,258.5L115.7,263.7L116.4,266.3L114.7,265.5L111.8,261.1L108.7,255.1L107.7,250.7L106.7,246.7Z"/>
<path fill="#7fcdbb" d="M152.5,288.5L152.7,286.7L154.5,284.4L157.1,283.6L156.0,281.5L156.2,279.9L160.6,279.9L159.7,284.9L162.0,285.4L159.4,287.5L159.1,288.8L157.1,290.5L154.2,290.1Z"/>
<path fill="#cff2be" d="M160.6,279.9L162.6,278.1L162.9,279.1L162.3,282.0L160.4,284.9L159.7,284.9Z"/>
<path fill="#7fcdbb" d="M157.1,290.5L159.1,288.8L160.8,289.8L162.4,290.1L162.5,291.4L160.6,291.9Z"/>
<path fill="#7fcdbb" d="M162.0,285.4L163.6,285.1L167.0,284.9L169.3,284.9L171.6,285.1L173.2,287.2L170.1,288.0L167.2,290.1L164.8,291.7L163.3,292.4L162.5,291.4L162.4,290.1L160.8,289.8L159.1,288.8L159.4,287.5Z"/>
<path fill="#cff2be" d="M173.2,287.2L172.0,292.4L171.3,296.4L171.2,297.8L168.9,297.7L166.6,297.4L164.9,295.1L162.8,292.7L163.3,292.4L164.8,291.7L167.2,290.1L170.1,288.0Z"/>
<path fill="#f4fbc6" d="M171.2,297.8L173.5,301.3L172.6,305.2L171.0,304.5L170.8,302.9L168.6,301.3L167.5,300.3L166.2,300.3L166.6,297.4L168.9,297.7Z"/>
<path fill="#f4fbc6" d="M173.5,301.3L174.3,302.9L177.0,303.4L179.6,301.9L181.7,301.3L185.3,303.7L183.9,307.6L182.9,305.2L181.4,303.2L180.5,302.9L178.6,304.7L179.1,306.8L177.0,307.6L175.3,305.5L172.6,305.2Z"/>
<path fill="#cff2be" d="M171.5,269.2L173.8,266.6L177.3,265.8L181.8,266.1L184.9,267.9L188.1,269.5L191.3,271.0L195.1,273.6L192.1,274.4L187.1,274.6L188.5,272.6L185.6,271.8L183.6,269.7L179.2,268.7L176.4,267.4L173.8,268.7Z"/>
<path fill="#cff2be" d="M185.1,278.3L188.3,278.1L189.9,279.4L188.1,279.9L185.4,279.4Z"/>
<path fill="#41b6c4" d="M200.5,275.0L198.2,274.4L196.8,275.0L198.0,276.3L198.8,277.8L196.3,277.8L194.2,277.8L194.1,278.6L197.3,278.9L200.1,279.3L200.1,277.6Z"/>
<path fill="#41b6c4" d="M200.5,275.0L202.7,274.4L204.7,275.0L206.2,276.0L207.8,277.8L206.4,278.3L204.2,278.3L202.5,278.6L200.8,280.2L200.1,279.3L200.1,277.6Z"/>
</g>
<g id="legend">
<rect x="54.6" y="517.1" width="48" height="11.3" fill="url(#h)" stroke="#cfcfcf" stroke-width="0.8"/>
<path d="M78.5,514.2V517.1" stroke="#999" stroke-width="0.7"/>
<path d="M121.9,522.75L128.3,517.1H206.2V528.4H128.3Z" fill="#e5e5e5"/>
<rect x="206.2" y="517.1" width="84" height="11.3" fill="#f4fbc6"/>
<rect x="290.2" y="517.1" width="84" height="11.3" fill="#cff2be"/>
<rect x="374.2" y="517.1" width="84" height="11.3" fill="#7fcdbb"/>
<rect x="458.2" y="517.1" width="84.2" height="11.3" fill="#41b6c4"/>
<rect x="542.4" y="517.1" width="84" height="11.3" fill="#1d91c0"/>
<rect x="626.4" y="517.1" width="84" height="11.3" fill="#225ea8"/>
<path d="M710.4,517.1H789L795,522.75L789,528.4H710.4Z" fill="#0c2c84"/>
<path d="M121.9,522.75L128.3,517.1H789L795,522.75L789,528.4H128.3Z" fill="none" stroke="#9a9a9a" stroke-width="0.5"/>
<g stroke="#7c7c7c" stroke-width="0.6"><path d="M206.2,514.2V528.4M290.2,514.2V528.4M374.2,514.2V528.4M458.2,514.2V528.4M542.4,514.2V528.4M626.4,514.2V528.4M710.4,514.2V528.4"/></g>
</g>
</svg>
<div id="title" class="abs">Total financial assistance and flows for agriculture, by recipient, 2023</div>
<div id="sub" class="abs"><span class="m">Total official development assistance and other official flows from all donors to the agriculture sector. This data</span><br><span class="m">is expressed in US dollars. It is adjusted for inflation but does not account for differences in living costs between</span><br><span class="m">countries.</span></div>
<div id="logo" class="abs"><span>Our World<br>in Data</span></div>
<div class="abs lg" style="left:54px">No data</div>
<div class="abs lg" style="left:206.2px;transform:translateX(-50%)">$0</div>
<div class="abs lg" style="left:290.2px;transform:translateX(-50%)">$10 million</div>
<div class="abs lg" style="left:374.2px;transform:translateX(-50%)">$20 million</div>
<div class="abs lg" style="left:458.2px;transform:translateX(-50%)">$50 million</div>
<div class="abs lg" style="left:542.4px;transform:translateX(-50%)">$100 million</div>
<div class="abs lg" style="left:626.4px;transform:translateX(-50%)">$200 million</div>
<div class="abs lg" style="left:710.4px;transform:translateX(-50%)">$500 million</div>
<div class="abs ft" style="left:16px;top:549px"><b style="letter-spacing:-0.47px">Data source:</b> Organisation for Economic Co-operation and Development</div>
<div class="abs ft" style="right:19.5px;top:549px;letter-spacing:0">OurWorldinData.org/agricultural-production | CC BY</div>
<div class="abs ft" style="left:16px;top:570px"><b style="letter-spacing:-0.08px">Note:</b><span style="letter-spacing:-0.165px"> This data is expressed in constant 2022 US$.</span></div>
</body></html>
